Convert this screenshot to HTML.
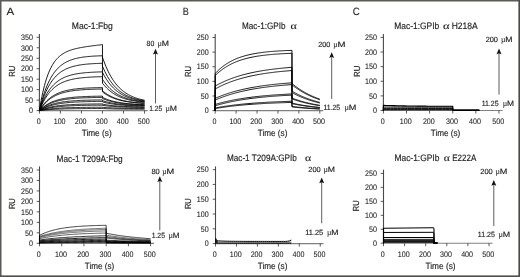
<!DOCTYPE html>
<html><head><meta charset="utf-8"><style>
html,body{margin:0;padding:0;background:#fff;width:520px;height:277px;overflow:hidden}
body{position:relative}
</style></head><body>
<svg xmlns="http://www.w3.org/2000/svg" width="520" height="277" viewBox="0 0 520 277" style="position:absolute;left:0;top:0;text-rendering:geometricPrecision;will-change:transform">
<rect x="0" y="0" width="520" height="277" fill="#fff"/>
<rect x="0" y="0" width="1.5" height="277" fill="#5a5a57"/>
<rect x="0" y="0" width="520" height="1.5" fill="#5a5a57"/>
<rect x="518.4" y="0" width="1.6" height="277" fill="#4a4a47"/>
<rect x="0" y="275.4" width="520" height="1.6" fill="#4f4f4c"/>
<g font-family='"Liberation Sans", sans-serif' fill="#222" stroke="#222" stroke-width="0.15">
<text x="6.55" y="14.60" font-size="10.5" textLength="7.70" lengthAdjust="spacingAndGlyphs" stroke-width="0.1">A</text>
<text x="182.65" y="14.80" font-size="10.5" textLength="6.10" lengthAdjust="spacingAndGlyphs" stroke-width="0.1">B</text>
<text x="352.75" y="15.30" font-size="10.5" textLength="7.00" lengthAdjust="spacingAndGlyphs" stroke-width="0.1">C</text>
<text x="71.75" y="28.60" font-size="9.3" textLength="41.10" lengthAdjust="spacingAndGlyphs" >Mac-1:Fbg</text>
<text x="242.05" y="28.70" font-size="9.3" textLength="43.50" lengthAdjust="spacingAndGlyphs" >Mac-1:GPIb</text>
<text x="290.45" y="28.90" font-size="9.6" textLength="6.30" lengthAdjust="spacingAndGlyphs" font-family="Liberation Serif" stroke-width="0.1">&#945;</text>
<text x="394.25" y="28.90" font-size="9.3" textLength="45.00" lengthAdjust="spacingAndGlyphs" >Mac-1:GPIb</text>
<text x="442.95" y="28.90" font-size="9.6" textLength="6.50" lengthAdjust="spacingAndGlyphs" font-family="Liberation Serif" stroke-width="0.1">&#945;</text>
<text x="451.65" y="28.90" font-size="9.3" textLength="26.10" lengthAdjust="spacingAndGlyphs" >H218A</text>
<text x="56.55" y="161.50" font-size="9.3" textLength="66.10" lengthAdjust="spacingAndGlyphs" >Mac-1 T209A:Fbg</text>
<text x="226.95" y="160.80" font-size="9.3" textLength="69.90" lengthAdjust="spacingAndGlyphs" >Mac-1 T209A:GPIb</text>
<text x="305.05" y="161.00" font-size="9.6" textLength="6.20" lengthAdjust="spacingAndGlyphs" font-family="Liberation Serif" stroke-width="0.1">&#945;</text>
<text x="394.45" y="161.30" font-size="9.3" textLength="44.90" lengthAdjust="spacingAndGlyphs" >Mac-1:GPIb</text>
<text x="443.65" y="161.10" font-size="9.6" textLength="6.10" lengthAdjust="spacingAndGlyphs" font-family="Liberation Serif" stroke-width="0.1">&#945;</text>
<text x="452.15" y="161.10" font-size="9.3" textLength="24.10" lengthAdjust="spacingAndGlyphs" >E222A</text>
<text transform="translate(15.00,76.50) rotate(-90)" x="-0.3" y="0" font-size="8.8" textLength="11.20" lengthAdjust="spacingAndGlyphs">RU</text>
<text transform="translate(190.90,76.70) rotate(-90)" x="-0.3" y="0" font-size="8.8" textLength="11.10" lengthAdjust="spacingAndGlyphs">RU</text>
<text transform="translate(359.60,76.70) rotate(-90)" x="-0.3" y="0" font-size="8.8" textLength="11.40" lengthAdjust="spacingAndGlyphs">RU</text>
<text transform="translate(15.30,208.80) rotate(-90)" x="-0.3" y="0" font-size="8.8" textLength="10.80" lengthAdjust="spacingAndGlyphs">RU</text>
<text transform="translate(190.90,208.80) rotate(-90)" x="-0.3" y="0" font-size="8.8" textLength="10.80" lengthAdjust="spacingAndGlyphs">RU</text>
<text transform="translate(359.30,210.90) rotate(-90)" x="-0.3" y="0" font-size="8.8" textLength="10.80" lengthAdjust="spacingAndGlyphs">RU</text>
<text x="81.65" y="135.90" font-size="9.0" textLength="30.00" lengthAdjust="spacingAndGlyphs" >Time (s)</text>
<text x="257.85" y="135.60" font-size="9.0" textLength="29.50" lengthAdjust="spacingAndGlyphs" >Time (s)</text>
<text x="430.75" y="135.80" font-size="9.0" textLength="29.50" lengthAdjust="spacingAndGlyphs" >Time (s)</text>
<text x="84.85" y="268.80" font-size="9.0" textLength="29.30" lengthAdjust="spacingAndGlyphs" >Time (s)</text>
<text x="257.85" y="268.90" font-size="9.0" textLength="29.50" lengthAdjust="spacingAndGlyphs" >Time (s)</text>
<text x="425.55" y="268.70" font-size="9.0" textLength="30.00" lengthAdjust="spacingAndGlyphs" >Time (s)</text>
<text x="146.55" y="46.00" font-size="7.5" textLength="7.70" lengthAdjust="spacingAndGlyphs" >80</text>
<text x="157.45" y="46.00" font-size="8.3" textLength="4.40" lengthAdjust="spacingAndGlyphs" font-family="Liberation Serif" stroke-width="0.1">&#181;</text>
<text x="161.75" y="46.00" font-size="7.5" textLength="7.20" lengthAdjust="spacingAndGlyphs" >M</text>
<text x="149.25" y="110.80" font-size="7.5" textLength="13.00" lengthAdjust="spacingAndGlyphs" >1.25</text>
<text x="165.45" y="110.80" font-size="8.3" textLength="4.40" lengthAdjust="spacingAndGlyphs" font-family="Liberation Serif" stroke-width="0.1">&#181;</text>
<text x="169.75" y="110.80" font-size="7.5" textLength="7.20" lengthAdjust="spacingAndGlyphs" >M</text>
<text x="318.35" y="46.50" font-size="7.5" textLength="12.00" lengthAdjust="spacingAndGlyphs" >200</text>
<text x="333.25" y="46.50" font-size="8.3" textLength="4.40" lengthAdjust="spacingAndGlyphs" font-family="Liberation Serif" stroke-width="0.1">&#181;</text>
<text x="337.55" y="46.50" font-size="7.5" textLength="8.00" lengthAdjust="spacingAndGlyphs" >M</text>
<text x="323.55" y="110.10" font-size="7.5" textLength="16.60" lengthAdjust="spacingAndGlyphs" >11.25</text>
<text x="344.45" y="110.10" font-size="8.3" textLength="4.40" lengthAdjust="spacingAndGlyphs" font-family="Liberation Serif" stroke-width="0.1">&#181;</text>
<text x="348.75" y="110.10" font-size="7.5" textLength="7.60" lengthAdjust="spacingAndGlyphs" >M</text>
<text x="485.65" y="41.90" font-size="7.5" textLength="12.30" lengthAdjust="spacingAndGlyphs" >200</text>
<text x="501.05" y="41.90" font-size="8.3" textLength="4.40" lengthAdjust="spacingAndGlyphs" font-family="Liberation Serif" stroke-width="0.1">&#181;</text>
<text x="505.35" y="41.90" font-size="7.5" textLength="7.20" lengthAdjust="spacingAndGlyphs" >M</text>
<text x="481.65" y="106.10" font-size="7.5" textLength="16.90" lengthAdjust="spacingAndGlyphs" >11.25</text>
<text x="502.75" y="106.10" font-size="8.3" textLength="4.40" lengthAdjust="spacingAndGlyphs" font-family="Liberation Serif" stroke-width="0.1">&#181;</text>
<text x="507.05" y="106.10" font-size="7.5" textLength="7.00" lengthAdjust="spacingAndGlyphs" >M</text>
<text x="151.45" y="173.60" font-size="7.5" textLength="8.30" lengthAdjust="spacingAndGlyphs" >80</text>
<text x="162.25" y="173.60" font-size="8.3" textLength="4.40" lengthAdjust="spacingAndGlyphs" font-family="Liberation Serif" stroke-width="0.1">&#181;</text>
<text x="166.55" y="173.60" font-size="7.5" textLength="7.70" lengthAdjust="spacingAndGlyphs" >M</text>
<text x="151.65" y="237.70" font-size="7.5" textLength="13.30" lengthAdjust="spacingAndGlyphs" >1.25</text>
<text x="168.45" y="237.70" font-size="8.3" textLength="4.40" lengthAdjust="spacingAndGlyphs" font-family="Liberation Serif" stroke-width="0.1">&#181;</text>
<text x="172.75" y="237.70" font-size="7.5" textLength="6.70" lengthAdjust="spacingAndGlyphs" >M</text>
<text x="308.25" y="171.70" font-size="7.5" textLength="12.40" lengthAdjust="spacingAndGlyphs" >200</text>
<text x="323.55" y="171.70" font-size="8.3" textLength="4.40" lengthAdjust="spacingAndGlyphs" font-family="Liberation Serif" stroke-width="0.1">&#181;</text>
<text x="327.85" y="171.70" font-size="7.5" textLength="7.20" lengthAdjust="spacingAndGlyphs" >M</text>
<text x="305.25" y="235.00" font-size="7.5" textLength="18.00" lengthAdjust="spacingAndGlyphs" >11.25</text>
<text x="326.95" y="235.00" font-size="8.3" textLength="4.40" lengthAdjust="spacingAndGlyphs" font-family="Liberation Serif" stroke-width="0.1">&#181;</text>
<text x="331.25" y="235.00" font-size="7.5" textLength="7.20" lengthAdjust="spacingAndGlyphs" >M</text>
<text x="480.25" y="173.70" font-size="7.5" textLength="12.40" lengthAdjust="spacingAndGlyphs" >200</text>
<text x="495.45" y="173.70" font-size="8.3" textLength="4.40" lengthAdjust="spacingAndGlyphs" font-family="Liberation Serif" stroke-width="0.1">&#181;</text>
<text x="499.75" y="173.70" font-size="7.5" textLength="7.60" lengthAdjust="spacingAndGlyphs" >M</text>
<text x="477.85" y="236.70" font-size="7.5" textLength="17.10" lengthAdjust="spacingAndGlyphs" >11.25</text>
<text x="498.45" y="236.70" font-size="8.3" textLength="4.40" lengthAdjust="spacingAndGlyphs" font-family="Liberation Serif" stroke-width="0.1">&#181;</text>
<text x="502.75" y="236.70" font-size="7.5" textLength="7.40" lengthAdjust="spacingAndGlyphs" >M</text>
</g>
<line x1="155.50" y1="52.80" x2="155.50" y2="103.50" stroke="#333" stroke-width="0.8"/>
<path d="M155.50,48.80 L158.00,54.50 L155.50,53.40 L153.00,54.50 Z" fill="#111"/>
<line x1="331.70" y1="56.20" x2="331.70" y2="98.90" stroke="#333" stroke-width="0.8"/>
<path d="M331.70,52.20 L334.20,57.90 L331.70,56.80 L329.20,57.90 Z" fill="#111"/>
<line x1="499.00" y1="52.60" x2="499.00" y2="94.70" stroke="#333" stroke-width="0.8"/>
<path d="M499.00,48.60 L501.50,54.30 L499.00,53.20 L496.50,54.30 Z" fill="#111"/>
<line x1="159.80" y1="180.30" x2="159.80" y2="230.40" stroke="#333" stroke-width="0.8"/>
<path d="M159.80,176.30 L162.30,182.00 L159.80,180.90 L157.30,182.00 Z" fill="#111"/>
<line x1="321.70" y1="181.60" x2="321.70" y2="223.30" stroke="#333" stroke-width="0.8"/>
<path d="M321.70,177.60 L324.20,183.30 L321.70,182.20 L319.20,183.30 Z" fill="#111"/>
<line x1="493.80" y1="184.10" x2="493.80" y2="226.10" stroke="#333" stroke-width="0.8"/>
<path d="M493.80,180.10 L496.30,185.80 L493.80,184.70 L491.30,185.80 Z" fill="#111"/>
<g font-family='"Liberation Sans", sans-serif' fill="#222" stroke="#222" stroke-width="0.15">
<line x1="39.40" y1="34.00" x2="39.40" y2="111.00" stroke="#4a4a4a" stroke-width="1.1"/>
<line x1="39.00" y1="110.60" x2="147.70" y2="110.60" stroke="#808080" stroke-width="1.15"/>
<line x1="36.60" y1="110.60" x2="39.40" y2="110.60" stroke="#333" stroke-width="0.8"/>
<text transform="translate(32.90,113.35) scale(0.89,1)" font-size="8.0" text-anchor="end" stroke-width="0.08" >0</text>
<line x1="36.60" y1="100.13" x2="39.40" y2="100.13" stroke="#333" stroke-width="0.8"/>
<text transform="translate(32.90,102.88) scale(0.89,1)" font-size="8.0" text-anchor="end" stroke-width="0.08" >50</text>
<line x1="36.60" y1="89.66" x2="39.40" y2="89.66" stroke="#333" stroke-width="0.8"/>
<text transform="translate(32.90,92.41) scale(0.89,1)" font-size="8.0" text-anchor="end" stroke-width="0.08" >100</text>
<line x1="36.60" y1="79.19" x2="39.40" y2="79.19" stroke="#333" stroke-width="0.8"/>
<text transform="translate(32.90,81.94) scale(0.89,1)" font-size="8.0" text-anchor="end" stroke-width="0.08" >150</text>
<line x1="36.60" y1="68.72" x2="39.40" y2="68.72" stroke="#333" stroke-width="0.8"/>
<text transform="translate(32.90,71.47) scale(0.89,1)" font-size="8.0" text-anchor="end" stroke-width="0.08" >200</text>
<line x1="36.60" y1="58.25" x2="39.40" y2="58.25" stroke="#333" stroke-width="0.8"/>
<text transform="translate(32.90,61.00) scale(0.89,1)" font-size="8.0" text-anchor="end" stroke-width="0.08" >250</text>
<line x1="36.60" y1="47.78" x2="39.40" y2="47.78" stroke="#333" stroke-width="0.8"/>
<text transform="translate(32.90,50.53) scale(0.89,1)" font-size="8.0" text-anchor="end" stroke-width="0.08" >300</text>
<line x1="36.60" y1="37.31" x2="39.40" y2="37.31" stroke="#333" stroke-width="0.8"/>
<text transform="translate(32.90,40.06) scale(0.89,1)" font-size="8.0" text-anchor="end" stroke-width="0.08" >350</text>
<line x1="39.40" y1="110.60" x2="39.40" y2="113.60" stroke="#333" stroke-width="0.8"/>
<text transform="translate(38.60,123.70) scale(0.89,1)" font-size="8.0" text-anchor="middle" stroke-width="0.08" >0</text>
<line x1="60.42" y1="110.60" x2="60.42" y2="113.60" stroke="#333" stroke-width="0.8"/>
<text transform="translate(59.62,123.70) scale(0.89,1)" font-size="8.0" text-anchor="middle" stroke-width="0.08" >100</text>
<line x1="81.44" y1="110.60" x2="81.44" y2="113.60" stroke="#333" stroke-width="0.8"/>
<text transform="translate(80.64,123.70) scale(0.89,1)" font-size="8.0" text-anchor="middle" stroke-width="0.08" >200</text>
<line x1="102.46" y1="110.60" x2="102.46" y2="113.60" stroke="#333" stroke-width="0.8"/>
<text transform="translate(101.66,123.70) scale(0.89,1)" font-size="8.0" text-anchor="middle" stroke-width="0.08" >300</text>
<line x1="123.48" y1="110.60" x2="123.48" y2="113.60" stroke="#333" stroke-width="0.8"/>
<text transform="translate(122.68,123.70) scale(0.89,1)" font-size="8.0" text-anchor="middle" stroke-width="0.08" >400</text>
<line x1="144.50" y1="110.60" x2="144.50" y2="113.60" stroke="#333" stroke-width="0.8"/>
<text transform="translate(143.70,123.70) scale(0.89,1)" font-size="8.0" text-anchor="middle" stroke-width="0.08" >500</text>
<line x1="215.20" y1="34.00" x2="215.20" y2="111.00" stroke="#4a4a4a" stroke-width="1.1"/>
<line x1="214.80" y1="110.60" x2="323.30" y2="110.60" stroke="#808080" stroke-width="1.15"/>
<line x1="212.40" y1="110.60" x2="215.20" y2="110.60" stroke="#333" stroke-width="0.8"/>
<text transform="translate(208.60,113.35) scale(0.89,1)" font-size="8.0" text-anchor="end" stroke-width="0.08" >0</text>
<line x1="212.40" y1="95.98" x2="215.20" y2="95.98" stroke="#333" stroke-width="0.8"/>
<text transform="translate(208.60,98.73) scale(0.89,1)" font-size="8.0" text-anchor="end" stroke-width="0.08" >50</text>
<line x1="212.40" y1="81.36" x2="215.20" y2="81.36" stroke="#333" stroke-width="0.8"/>
<text transform="translate(208.60,84.11) scale(0.89,1)" font-size="8.0" text-anchor="end" stroke-width="0.08" >100</text>
<line x1="212.40" y1="66.74" x2="215.20" y2="66.74" stroke="#333" stroke-width="0.8"/>
<text transform="translate(208.60,69.49) scale(0.89,1)" font-size="8.0" text-anchor="end" stroke-width="0.08" >150</text>
<line x1="212.40" y1="52.12" x2="215.20" y2="52.12" stroke="#333" stroke-width="0.8"/>
<text transform="translate(208.60,54.87) scale(0.89,1)" font-size="8.0" text-anchor="end" stroke-width="0.08" >200</text>
<line x1="212.40" y1="37.50" x2="215.20" y2="37.50" stroke="#333" stroke-width="0.8"/>
<text transform="translate(208.60,40.25) scale(0.89,1)" font-size="8.0" text-anchor="end" stroke-width="0.08" >250</text>
<line x1="215.20" y1="110.60" x2="215.20" y2="113.60" stroke="#333" stroke-width="0.8"/>
<text transform="translate(214.40,123.70) scale(0.89,1)" font-size="8.0" text-anchor="middle" stroke-width="0.08" >0</text>
<line x1="236.12" y1="110.60" x2="236.12" y2="113.60" stroke="#333" stroke-width="0.8"/>
<text transform="translate(235.32,123.70) scale(0.89,1)" font-size="8.0" text-anchor="middle" stroke-width="0.08" >100</text>
<line x1="257.04" y1="110.60" x2="257.04" y2="113.60" stroke="#333" stroke-width="0.8"/>
<text transform="translate(256.24,123.70) scale(0.89,1)" font-size="8.0" text-anchor="middle" stroke-width="0.08" >200</text>
<line x1="277.96" y1="110.60" x2="277.96" y2="113.60" stroke="#333" stroke-width="0.8"/>
<text transform="translate(277.16,123.70) scale(0.89,1)" font-size="8.0" text-anchor="middle" stroke-width="0.08" >300</text>
<line x1="298.88" y1="110.60" x2="298.88" y2="113.60" stroke="#333" stroke-width="0.8"/>
<text transform="translate(298.08,123.70) scale(0.89,1)" font-size="8.0" text-anchor="middle" stroke-width="0.08" >400</text>
<line x1="319.80" y1="110.60" x2="319.80" y2="113.60" stroke="#333" stroke-width="0.8"/>
<text transform="translate(319.00,123.70) scale(0.89,1)" font-size="8.0" text-anchor="middle" stroke-width="0.08" >500</text>
<line x1="383.40" y1="34.00" x2="383.40" y2="110.90" stroke="#4a4a4a" stroke-width="1.1"/>
<line x1="383.00" y1="110.50" x2="502.60" y2="110.50" stroke="#808080" stroke-width="1.15"/>
<line x1="380.60" y1="110.50" x2="383.40" y2="110.50" stroke="#333" stroke-width="0.8"/>
<text transform="translate(376.90,113.25) scale(0.89,1)" font-size="8.0" text-anchor="end" stroke-width="0.08" >0</text>
<line x1="380.60" y1="95.88" x2="383.40" y2="95.88" stroke="#333" stroke-width="0.8"/>
<text transform="translate(376.90,98.63) scale(0.89,1)" font-size="8.0" text-anchor="end" stroke-width="0.08" >50</text>
<line x1="380.60" y1="81.26" x2="383.40" y2="81.26" stroke="#333" stroke-width="0.8"/>
<text transform="translate(376.90,84.01) scale(0.89,1)" font-size="8.0" text-anchor="end" stroke-width="0.08" >100</text>
<line x1="380.60" y1="66.64" x2="383.40" y2="66.64" stroke="#333" stroke-width="0.8"/>
<text transform="translate(376.90,69.39) scale(0.89,1)" font-size="8.0" text-anchor="end" stroke-width="0.08" >150</text>
<line x1="380.60" y1="52.02" x2="383.40" y2="52.02" stroke="#333" stroke-width="0.8"/>
<text transform="translate(376.90,54.77) scale(0.89,1)" font-size="8.0" text-anchor="end" stroke-width="0.08" >200</text>
<line x1="380.60" y1="37.40" x2="383.40" y2="37.40" stroke="#333" stroke-width="0.8"/>
<text transform="translate(376.90,40.15) scale(0.89,1)" font-size="8.0" text-anchor="end" stroke-width="0.08" >250</text>
<line x1="383.40" y1="110.50" x2="383.40" y2="113.50" stroke="#333" stroke-width="0.8"/>
<text transform="translate(382.60,123.70) scale(0.89,1)" font-size="8.0" text-anchor="middle" stroke-width="0.08" >0</text>
<line x1="406.51" y1="110.50" x2="406.51" y2="113.50" stroke="#333" stroke-width="0.8"/>
<text transform="translate(405.71,123.70) scale(0.89,1)" font-size="8.0" text-anchor="middle" stroke-width="0.08" >100</text>
<line x1="429.62" y1="110.50" x2="429.62" y2="113.50" stroke="#333" stroke-width="0.8"/>
<text transform="translate(428.82,123.70) scale(0.89,1)" font-size="8.0" text-anchor="middle" stroke-width="0.08" >200</text>
<line x1="452.73" y1="110.50" x2="452.73" y2="113.50" stroke="#333" stroke-width="0.8"/>
<text transform="translate(451.93,123.70) scale(0.89,1)" font-size="8.0" text-anchor="middle" stroke-width="0.08" >300</text>
<line x1="475.84" y1="110.50" x2="475.84" y2="113.50" stroke="#333" stroke-width="0.8"/>
<text transform="translate(475.04,123.70) scale(0.89,1)" font-size="8.0" text-anchor="middle" stroke-width="0.08" >400</text>
<line x1="498.95" y1="110.50" x2="498.95" y2="113.50" stroke="#333" stroke-width="0.8"/>
<text transform="translate(498.15,123.70) scale(0.89,1)" font-size="8.0" text-anchor="middle" stroke-width="0.08" >500</text>
<line x1="39.50" y1="166.40" x2="39.50" y2="243.70" stroke="#4a4a4a" stroke-width="1.1"/>
<line x1="39.10" y1="243.30" x2="154.10" y2="243.30" stroke="#808080" stroke-width="1.15"/>
<line x1="36.70" y1="243.30" x2="39.50" y2="243.30" stroke="#333" stroke-width="0.8"/>
<text transform="translate(32.90,246.05) scale(0.89,1)" font-size="8.0" text-anchor="end" stroke-width="0.08" >0</text>
<line x1="36.70" y1="232.83" x2="39.50" y2="232.83" stroke="#333" stroke-width="0.8"/>
<text transform="translate(32.90,235.58) scale(0.89,1)" font-size="8.0" text-anchor="end" stroke-width="0.08" >50</text>
<line x1="36.70" y1="222.36" x2="39.50" y2="222.36" stroke="#333" stroke-width="0.8"/>
<text transform="translate(32.90,225.11) scale(0.89,1)" font-size="8.0" text-anchor="end" stroke-width="0.08" >100</text>
<line x1="36.70" y1="211.89" x2="39.50" y2="211.89" stroke="#333" stroke-width="0.8"/>
<text transform="translate(32.90,214.64) scale(0.89,1)" font-size="8.0" text-anchor="end" stroke-width="0.08" >150</text>
<line x1="36.70" y1="201.42" x2="39.50" y2="201.42" stroke="#333" stroke-width="0.8"/>
<text transform="translate(32.90,204.17) scale(0.89,1)" font-size="8.0" text-anchor="end" stroke-width="0.08" >200</text>
<line x1="36.70" y1="190.95" x2="39.50" y2="190.95" stroke="#333" stroke-width="0.8"/>
<text transform="translate(32.90,193.70) scale(0.89,1)" font-size="8.0" text-anchor="end" stroke-width="0.08" >250</text>
<line x1="36.70" y1="180.48" x2="39.50" y2="180.48" stroke="#333" stroke-width="0.8"/>
<text transform="translate(32.90,183.23) scale(0.89,1)" font-size="8.0" text-anchor="end" stroke-width="0.08" >300</text>
<line x1="36.70" y1="170.01" x2="39.50" y2="170.01" stroke="#333" stroke-width="0.8"/>
<text transform="translate(32.90,172.76) scale(0.89,1)" font-size="8.0" text-anchor="end" stroke-width="0.08" >350</text>
<line x1="39.50" y1="243.30" x2="39.50" y2="246.30" stroke="#333" stroke-width="0.8"/>
<text transform="translate(38.70,256.50) scale(0.89,1)" font-size="8.0" text-anchor="middle" stroke-width="0.08" >0</text>
<line x1="61.72" y1="243.30" x2="61.72" y2="246.30" stroke="#333" stroke-width="0.8"/>
<text transform="translate(60.92,256.50) scale(0.89,1)" font-size="8.0" text-anchor="middle" stroke-width="0.08" >100</text>
<line x1="83.94" y1="243.30" x2="83.94" y2="246.30" stroke="#333" stroke-width="0.8"/>
<text transform="translate(83.14,256.50) scale(0.89,1)" font-size="8.0" text-anchor="middle" stroke-width="0.08" >200</text>
<line x1="106.16" y1="243.30" x2="106.16" y2="246.30" stroke="#333" stroke-width="0.8"/>
<text transform="translate(105.36,256.50) scale(0.89,1)" font-size="8.0" text-anchor="middle" stroke-width="0.08" >300</text>
<line x1="128.38" y1="243.30" x2="128.38" y2="246.30" stroke="#333" stroke-width="0.8"/>
<text transform="translate(127.58,256.50) scale(0.89,1)" font-size="8.0" text-anchor="middle" stroke-width="0.08" >400</text>
<line x1="150.60" y1="243.30" x2="150.60" y2="246.30" stroke="#333" stroke-width="0.8"/>
<text transform="translate(149.80,256.50) scale(0.89,1)" font-size="8.0" text-anchor="middle" stroke-width="0.08" >500</text>
<line x1="215.50" y1="166.40" x2="215.50" y2="244.00" stroke="#4a4a4a" stroke-width="1.1"/>
<line x1="215.10" y1="243.60" x2="323.50" y2="243.60" stroke="#808080" stroke-width="1.15"/>
<line x1="212.70" y1="243.60" x2="215.50" y2="243.60" stroke="#333" stroke-width="0.8"/>
<text transform="translate(208.60,246.35) scale(0.89,1)" font-size="8.0" text-anchor="end" stroke-width="0.08" >0</text>
<line x1="212.70" y1="228.81" x2="215.50" y2="228.81" stroke="#333" stroke-width="0.8"/>
<text transform="translate(208.60,231.56) scale(0.89,1)" font-size="8.0" text-anchor="end" stroke-width="0.08" >50</text>
<line x1="212.70" y1="214.02" x2="215.50" y2="214.02" stroke="#333" stroke-width="0.8"/>
<text transform="translate(208.60,216.77) scale(0.89,1)" font-size="8.0" text-anchor="end" stroke-width="0.08" >100</text>
<line x1="212.70" y1="199.23" x2="215.50" y2="199.23" stroke="#333" stroke-width="0.8"/>
<text transform="translate(208.60,201.98) scale(0.89,1)" font-size="8.0" text-anchor="end" stroke-width="0.08" >150</text>
<line x1="212.70" y1="184.44" x2="215.50" y2="184.44" stroke="#333" stroke-width="0.8"/>
<text transform="translate(208.60,187.19) scale(0.89,1)" font-size="8.0" text-anchor="end" stroke-width="0.08" >200</text>
<line x1="212.70" y1="169.65" x2="215.50" y2="169.65" stroke="#333" stroke-width="0.8"/>
<text transform="translate(208.60,172.40) scale(0.89,1)" font-size="8.0" text-anchor="end" stroke-width="0.08" >250</text>
<line x1="215.50" y1="243.60" x2="215.50" y2="246.60" stroke="#333" stroke-width="0.8"/>
<text transform="translate(214.70,256.50) scale(0.89,1)" font-size="8.0" text-anchor="middle" stroke-width="0.08" >0</text>
<line x1="236.45" y1="243.60" x2="236.45" y2="246.60" stroke="#333" stroke-width="0.8"/>
<text transform="translate(235.65,256.50) scale(0.89,1)" font-size="8.0" text-anchor="middle" stroke-width="0.08" >100</text>
<line x1="257.40" y1="243.60" x2="257.40" y2="246.60" stroke="#333" stroke-width="0.8"/>
<text transform="translate(256.60,256.50) scale(0.89,1)" font-size="8.0" text-anchor="middle" stroke-width="0.08" >200</text>
<line x1="278.35" y1="243.60" x2="278.35" y2="246.60" stroke="#333" stroke-width="0.8"/>
<text transform="translate(277.55,256.50) scale(0.89,1)" font-size="8.0" text-anchor="middle" stroke-width="0.08" >300</text>
<line x1="299.30" y1="243.60" x2="299.30" y2="246.60" stroke="#333" stroke-width="0.8"/>
<text transform="translate(298.50,256.50) scale(0.89,1)" font-size="8.0" text-anchor="middle" stroke-width="0.08" >400</text>
<line x1="320.25" y1="243.60" x2="320.25" y2="246.60" stroke="#333" stroke-width="0.8"/>
<text transform="translate(319.45,256.50) scale(0.89,1)" font-size="8.0" text-anchor="middle" stroke-width="0.08" >500</text>
<line x1="383.50" y1="169.70" x2="383.50" y2="243.60" stroke="#4a4a4a" stroke-width="1.1"/>
<line x1="383.10" y1="243.20" x2="492.50" y2="243.20" stroke="#808080" stroke-width="1.15"/>
<line x1="380.70" y1="243.20" x2="383.50" y2="243.20" stroke="#333" stroke-width="0.8"/>
<text transform="translate(376.90,245.95) scale(0.89,1)" font-size="8.0" text-anchor="end" stroke-width="0.08" >0</text>
<line x1="380.70" y1="229.25" x2="383.50" y2="229.25" stroke="#333" stroke-width="0.8"/>
<text transform="translate(376.90,232.00) scale(0.89,1)" font-size="8.0" text-anchor="end" stroke-width="0.08" >50</text>
<line x1="380.70" y1="215.30" x2="383.50" y2="215.30" stroke="#333" stroke-width="0.8"/>
<text transform="translate(376.90,218.05) scale(0.89,1)" font-size="8.0" text-anchor="end" stroke-width="0.08" >100</text>
<line x1="380.70" y1="201.35" x2="383.50" y2="201.35" stroke="#333" stroke-width="0.8"/>
<text transform="translate(376.90,204.10) scale(0.89,1)" font-size="8.0" text-anchor="end" stroke-width="0.08" >150</text>
<line x1="380.70" y1="187.40" x2="383.50" y2="187.40" stroke="#333" stroke-width="0.8"/>
<text transform="translate(376.90,190.15) scale(0.89,1)" font-size="8.0" text-anchor="end" stroke-width="0.08" >200</text>
<line x1="380.70" y1="173.45" x2="383.50" y2="173.45" stroke="#333" stroke-width="0.8"/>
<text transform="translate(376.90,176.20) scale(0.89,1)" font-size="8.0" text-anchor="end" stroke-width="0.08" >250</text>
<line x1="383.50" y1="243.20" x2="383.50" y2="246.20" stroke="#333" stroke-width="0.8"/>
<text transform="translate(382.70,256.50) scale(0.89,1)" font-size="8.0" text-anchor="middle" stroke-width="0.08" >0</text>
<line x1="404.60" y1="243.20" x2="404.60" y2="246.20" stroke="#333" stroke-width="0.8"/>
<text transform="translate(403.80,256.50) scale(0.89,1)" font-size="8.0" text-anchor="middle" stroke-width="0.08" >100</text>
<line x1="425.70" y1="243.20" x2="425.70" y2="246.20" stroke="#333" stroke-width="0.8"/>
<text transform="translate(424.90,256.50) scale(0.89,1)" font-size="8.0" text-anchor="middle" stroke-width="0.08" >200</text>
<line x1="446.80" y1="243.20" x2="446.80" y2="246.20" stroke="#333" stroke-width="0.8"/>
<text transform="translate(446.00,256.50) scale(0.89,1)" font-size="8.0" text-anchor="middle" stroke-width="0.08" >300</text>
<line x1="467.90" y1="243.20" x2="467.90" y2="246.20" stroke="#333" stroke-width="0.8"/>
<text transform="translate(467.10,256.50) scale(0.89,1)" font-size="8.0" text-anchor="middle" stroke-width="0.08" >400</text>
<line x1="489.00" y1="243.20" x2="489.00" y2="246.20" stroke="#333" stroke-width="0.8"/>
<text transform="translate(488.20,256.50) scale(0.89,1)" font-size="8.0" text-anchor="middle" stroke-width="0.08" >500</text>
</g>
<path d="M39.40,110.60 L40.24,105.50 L41.08,100.83 L41.92,96.54 L42.76,92.61 L43.60,89.00 L44.44,85.69 L45.29,82.65 L46.13,79.85 L46.97,77.29 L47.81,74.93 L48.65,72.77 L49.49,70.78 L50.33,68.95 L51.17,67.26 L52.01,65.72 L52.85,64.29 L53.69,62.98 L54.53,61.77 L55.38,60.65 L56.22,59.62 L57.06,58.67 L57.90,57.80 L58.74,56.99 L59.58,56.24 L60.42,55.54 L61.26,54.90 L62.10,54.30 L62.94,53.75 L63.78,53.24 L64.62,52.76 L65.46,52.31 L66.31,51.90 L67.15,51.51 L67.99,51.15 L68.83,50.81 L69.67,50.49 L70.51,50.19 L71.35,49.91 L72.19,49.65 L73.03,49.40 L73.87,49.16 L74.71,48.94 L75.55,48.72 L76.40,48.52 L77.24,48.33 L78.08,48.15 L78.92,47.97 L79.76,47.80 L80.60,47.64 L81.44,47.49 L82.28,47.34 L83.12,47.19 L83.96,47.05 L84.80,46.92 L85.64,46.79 L86.48,46.66 L87.33,46.54 L88.17,46.41 L89.01,46.30 L89.85,46.18 L90.69,46.07 L91.53,45.96 L92.37,45.85 L93.21,45.74 L94.05,45.63 L94.89,45.53 L95.73,45.43 L96.57,45.32 L97.42,45.22 L98.26,45.12 L99.10,45.02 L99.94,44.93 L100.78,44.83 L101.62,44.73 L102.46,44.64 L102.46,57.17 L103.30,59.60 L104.14,61.91 L104.98,64.09 L105.82,66.16 L106.66,68.12 L107.50,69.97 L108.35,71.73 L109.19,73.40 L110.03,74.97 L110.87,76.47 L111.71,77.88 L112.55,79.22 L113.39,80.49 L114.23,81.69 L115.07,82.83 L115.91,83.91 L116.75,84.93 L117.59,85.90 L118.44,86.82 L119.28,87.69 L120.12,88.51 L120.96,89.29 L121.80,90.03 L122.64,90.73 L123.48,91.39 L124.32,92.02 L125.16,92.61 L126.00,93.17 L126.84,93.71 L127.68,94.21 L128.52,94.69 L129.37,95.15 L130.21,95.57 L131.05,95.98 L131.89,96.37 L132.73,96.73 L133.57,97.08 L134.41,97.40 L135.25,97.72 L136.09,98.01 L136.93,98.29 L137.77,98.55 L138.61,98.80 L139.46,99.04 L140.30,99.26 L141.14,99.47 L141.98,99.67 L142.82,99.86 L143.66,100.05 L144.50,100.22" fill="none" stroke="#000" stroke-width="0.9" stroke-linejoin="round"/>
<path d="M39.40,110.60 L40.24,107.07 L41.08,103.77 L41.92,100.67 L42.76,97.78 L43.60,95.07 L44.44,92.53 L45.29,90.16 L46.13,87.93 L46.97,85.85 L47.81,83.90 L48.65,82.08 L49.49,80.37 L50.33,78.77 L51.17,77.28 L52.01,75.88 L52.85,74.57 L53.69,73.34 L54.53,72.19 L55.38,71.11 L56.22,70.11 L57.06,69.16 L57.90,68.28 L58.74,67.45 L59.58,66.68 L60.42,65.96 L61.26,65.28 L62.10,64.65 L62.94,64.05 L63.78,63.50 L64.62,62.97 L65.46,62.49 L66.31,62.03 L67.15,61.60 L67.99,61.20 L68.83,60.83 L69.67,60.48 L70.51,60.15 L71.35,59.85 L72.19,59.56 L73.03,59.29 L73.87,59.04 L74.71,58.80 L75.55,58.58 L76.40,58.37 L77.24,58.18 L78.08,58.00 L78.92,57.83 L79.76,57.67 L80.60,57.52 L81.44,57.38 L82.28,57.25 L83.12,57.13 L83.96,57.02 L84.80,56.91 L85.64,56.81 L86.48,56.72 L87.33,56.63 L88.17,56.55 L89.01,56.47 L89.85,56.40 L90.69,56.33 L91.53,56.27 L92.37,56.21 L93.21,56.15 L94.05,56.10 L94.89,56.05 L95.73,56.01 L96.57,55.97 L97.42,55.93 L98.26,55.89 L99.10,55.86 L99.94,55.82 L100.78,55.79 L101.62,55.76 L102.46,55.74 L102.46,66.16 L103.30,68.12 L104.14,69.98 L104.98,71.74 L105.82,73.40 L106.66,74.98 L107.50,76.47 L108.35,77.89 L109.19,79.23 L110.03,80.50 L110.87,81.70 L111.71,82.84 L112.55,83.92 L113.39,84.95 L114.23,85.92 L115.07,86.83 L115.91,87.70 L116.75,88.53 L117.59,89.31 L118.44,90.04 L119.28,90.74 L120.12,91.41 L120.96,92.04 L121.80,92.63 L122.64,93.19 L123.48,93.73 L124.32,94.23 L125.16,94.71 L126.00,95.17 L126.84,95.60 L127.68,96.00 L128.52,96.39 L129.37,96.75 L130.21,97.10 L131.05,97.43 L131.89,97.74 L132.73,98.03 L133.57,98.31 L134.41,98.57 L135.25,98.82 L136.09,99.06 L136.93,99.28 L137.77,99.50 L138.61,99.70 L139.46,99.89 L140.30,100.07 L141.14,100.24 L141.98,100.40 L142.82,100.56 L143.66,100.70 L144.50,100.84" fill="none" stroke="#000" stroke-width="0.9" stroke-linejoin="round"/>
<path d="M39.40,110.60 L40.24,107.60 L41.08,104.79 L41.92,102.16 L42.76,99.69 L43.60,97.38 L44.44,95.21 L45.29,93.18 L46.13,91.28 L46.97,89.50 L47.81,87.83 L48.65,86.26 L49.49,84.79 L50.33,83.42 L51.17,82.13 L52.01,80.92 L52.85,79.79 L53.69,78.73 L54.53,77.73 L55.38,76.80 L56.22,75.93 L57.06,75.11 L57.90,74.34 L58.74,73.62 L59.58,72.95 L60.42,72.32 L61.26,71.73 L62.10,71.17 L62.94,70.65 L63.78,70.17 L64.62,69.71 L65.46,69.28 L66.31,68.88 L67.15,68.51 L67.99,68.15 L68.83,67.83 L69.67,67.52 L70.51,67.23 L71.35,66.96 L72.19,66.70 L73.03,66.46 L73.87,66.24 L74.71,66.03 L75.55,65.83 L76.40,65.65 L77.24,65.48 L78.08,65.32 L78.92,65.16 L79.76,65.02 L80.60,64.89 L81.44,64.77 L82.28,64.65 L83.12,64.54 L83.96,64.44 L84.80,64.34 L85.64,64.25 L86.48,64.17 L87.33,64.09 L88.17,64.01 L89.01,63.94 L89.85,63.88 L90.69,63.82 L91.53,63.76 L92.37,63.71 L93.21,63.66 L94.05,63.61 L94.89,63.57 L95.73,63.52 L96.57,63.49 L97.42,63.45 L98.26,63.42 L99.10,63.38 L99.94,63.35 L100.78,63.33 L101.62,63.30 L102.46,63.28 L102.46,72.27 L103.30,73.91 L104.14,75.46 L104.98,76.93 L105.82,78.33 L106.66,79.65 L107.50,80.90 L108.35,82.08 L109.19,83.20 L110.03,84.27 L110.87,85.27 L111.71,86.23 L112.55,87.13 L113.39,87.99 L114.23,88.80 L115.07,89.56 L115.91,90.29 L116.75,90.98 L117.59,91.63 L118.44,92.25 L119.28,92.84 L120.12,93.39 L120.96,93.92 L121.80,94.41 L122.64,94.89 L123.48,95.33 L124.32,95.76 L125.16,96.16 L126.00,96.54 L126.84,96.90 L127.68,97.24 L128.52,97.56 L129.37,97.86 L130.21,98.15 L131.05,98.43 L131.89,98.69 L132.73,98.93 L133.57,99.17 L134.41,99.39 L135.25,99.60 L136.09,99.79 L136.93,99.98 L137.77,100.16 L138.61,100.33 L139.46,100.49 L140.30,100.64 L141.14,100.78 L141.98,100.92 L142.82,101.05 L143.66,101.17 L144.50,101.28" fill="none" stroke="#000" stroke-width="0.9" stroke-linejoin="round"/>
<path d="M39.40,110.60 L40.24,108.18 L41.08,105.92 L41.92,103.79 L42.76,101.80 L43.60,99.92 L44.44,98.17 L45.29,96.52 L46.13,94.98 L46.97,93.53 L47.81,92.17 L48.65,90.89 L49.49,89.69 L50.33,88.57 L51.17,87.52 L52.01,86.53 L52.85,85.60 L53.69,84.73 L54.53,83.91 L55.38,83.15 L56.22,82.43 L57.06,81.76 L57.90,81.12 L58.74,80.53 L59.58,79.98 L60.42,79.45 L61.26,78.96 L62.10,78.50 L62.94,78.07 L63.78,77.67 L64.62,77.29 L65.46,76.93 L66.31,76.60 L67.15,76.29 L67.99,75.99 L68.83,75.72 L69.67,75.46 L70.51,75.22 L71.35,74.99 L72.19,74.77 L73.03,74.57 L73.87,74.39 L74.71,74.21 L75.55,74.04 L76.40,73.89 L77.24,73.74 L78.08,73.61 L78.92,73.48 L79.76,73.36 L80.60,73.25 L81.44,73.14 L82.28,73.04 L83.12,72.95 L83.96,72.86 L84.80,72.78 L85.64,72.70 L86.48,72.63 L87.33,72.56 L88.17,72.50 L89.01,72.44 L89.85,72.38 L90.69,72.33 L91.53,72.28 L92.37,72.24 L93.21,72.19 L94.05,72.15 L94.89,72.11 L95.73,72.08 L96.57,72.04 L97.42,72.01 L98.26,71.98 L99.10,71.96 L99.94,71.93 L100.78,71.91 L101.62,71.88 L102.46,71.86 L102.46,79.22 L103.30,80.50 L104.14,81.71 L104.98,82.86 L105.82,83.94 L106.66,84.97 L107.50,85.95 L108.35,86.87 L109.19,87.75 L110.03,88.58 L110.87,89.36 L111.71,90.10 L112.55,90.81 L113.39,91.47 L114.23,92.11 L115.07,92.71 L115.91,93.27 L116.75,93.81 L117.59,94.32 L118.44,94.80 L119.28,95.26 L120.12,95.69 L120.96,96.10 L121.80,96.49 L122.64,96.85 L123.48,97.20 L124.32,97.53 L125.16,97.84 L126.00,98.14 L126.84,98.42 L127.68,98.69 L128.52,98.94 L129.37,99.18 L130.21,99.40 L131.05,99.61 L131.89,99.82 L132.73,100.01 L133.57,100.19 L134.41,100.36 L135.25,100.53 L136.09,100.68 L136.93,100.83 L137.77,100.96 L138.61,101.10 L139.46,101.22 L140.30,101.34 L141.14,101.45 L141.98,101.56 L142.82,101.66 L143.66,101.75 L144.50,101.84" fill="none" stroke="#000" stroke-width="0.9" stroke-linejoin="round"/>
<path d="M39.40,110.60 L40.24,108.52 L41.08,106.56 L41.92,104.72 L42.76,103.00 L43.60,101.38 L44.44,99.86 L45.29,98.43 L46.13,97.09 L46.97,95.83 L47.81,94.64 L48.65,93.53 L49.49,92.49 L50.33,91.51 L51.17,90.58 L52.01,89.72 L52.85,88.91 L53.69,88.14 L54.53,87.43 L55.38,86.76 L56.22,86.12 L57.06,85.53 L57.90,84.97 L58.74,84.45 L59.58,83.96 L60.42,83.50 L61.26,83.06 L62.10,82.65 L62.94,82.27 L63.78,81.91 L64.62,81.58 L65.46,81.26 L66.31,80.96 L67.15,80.68 L67.99,80.42 L68.83,80.17 L69.67,79.94 L70.51,79.72 L71.35,79.52 L72.19,79.33 L73.03,79.15 L73.87,78.98 L74.71,78.82 L75.55,78.67 L76.40,78.53 L77.24,78.40 L78.08,78.28 L78.92,78.16 L79.76,78.05 L80.60,77.95 L81.44,77.85 L82.28,77.76 L83.12,77.68 L83.96,77.60 L84.80,77.52 L85.64,77.45 L86.48,77.39 L87.33,77.32 L88.17,77.27 L89.01,77.21 L89.85,77.16 L90.69,77.11 L91.53,77.07 L92.37,77.02 L93.21,76.98 L94.05,76.95 L94.89,76.91 L95.73,76.88 L96.57,76.85 L97.42,76.82 L98.26,76.79 L99.10,76.77 L99.94,76.74 L100.78,76.72 L101.62,76.70 L102.46,76.68 L102.46,83.12 L103.30,84.20 L104.14,85.22 L104.98,86.19 L105.82,87.11 L106.66,87.97 L107.50,88.80 L108.35,89.57 L109.19,90.31 L110.03,91.01 L110.87,91.67 L111.71,92.30 L112.55,92.89 L113.39,93.46 L114.23,93.99 L115.07,94.49 L115.91,94.97 L116.75,95.43 L117.59,95.85 L118.44,96.26 L119.28,96.65 L120.12,97.01 L120.96,97.36 L121.80,97.68 L122.64,97.99 L123.48,98.29 L124.32,98.56 L125.16,98.83 L126.00,99.08 L126.84,99.31 L127.68,99.54 L128.52,99.75 L129.37,99.95 L130.21,100.14 L131.05,100.32 L131.89,100.49 L132.73,100.65 L133.57,100.81 L134.41,100.95 L135.25,101.09 L136.09,101.22 L136.93,101.34 L137.77,101.46 L138.61,101.57 L139.46,101.68 L140.30,101.78 L141.14,101.87 L141.98,101.96 L142.82,102.04 L143.66,102.12 L144.50,102.20" fill="none" stroke="#000" stroke-width="0.9" stroke-linejoin="round"/>
<path d="M39.40,110.60 L40.24,109.21 L41.08,107.90 L41.92,106.67 L42.76,105.51 L43.60,104.43 L44.44,103.40 L45.29,102.44 L46.13,101.54 L46.97,100.69 L47.81,99.89 L48.65,99.14 L49.49,98.43 L50.33,97.77 L51.17,97.15 L52.01,96.56 L52.85,96.01 L53.69,95.49 L54.53,95.00 L55.38,94.54 L56.22,94.11 L57.06,93.71 L57.90,93.33 L58.74,92.97 L59.58,92.63 L60.42,92.31 L61.26,92.02 L62.10,91.74 L62.94,91.47 L63.78,91.23 L64.62,90.99 L65.46,90.77 L66.31,90.57 L67.15,90.38 L67.99,90.19 L68.83,90.02 L69.67,89.86 L70.51,89.71 L71.35,89.57 L72.19,89.44 L73.03,89.31 L73.87,89.19 L74.71,89.08 L75.55,88.98 L76.40,88.88 L77.24,88.79 L78.08,88.70 L78.92,88.62 L79.76,88.54 L80.60,88.47 L81.44,88.40 L82.28,88.34 L83.12,88.28 L83.96,88.22 L84.80,88.17 L85.64,88.12 L86.48,88.07 L87.33,88.03 L88.17,87.99 L89.01,87.95 L89.85,87.91 L90.69,87.88 L91.53,87.85 L92.37,87.82 L93.21,87.79 L94.05,87.76 L94.89,87.73 L95.73,87.71 L96.57,87.69 L97.42,87.67 L98.26,87.65 L99.10,87.63 L99.94,87.61 L100.78,87.60 L101.62,87.58 L102.46,87.57 L102.46,90.78 L103.30,91.48 L104.14,92.14 L104.98,92.77 L105.82,93.37 L106.66,93.93 L107.50,94.47 L108.35,94.98 L109.19,95.46 L110.03,95.91 L110.87,96.34 L111.71,96.75 L112.55,97.14 L113.39,97.51 L114.23,97.85 L115.07,98.18 L115.91,98.49 L116.75,98.79 L117.59,99.07 L118.44,99.33 L119.28,99.58 L120.12,99.82 L120.96,100.04 L121.80,100.26 L122.64,100.46 L123.48,100.65 L124.32,100.83 L125.16,101.00 L126.00,101.17 L126.84,101.32 L127.68,101.47 L128.52,101.60 L129.37,101.73 L130.21,101.86 L131.05,101.98 L131.89,102.09 L132.73,102.19 L133.57,102.29 L134.41,102.39 L135.25,102.48 L136.09,102.56 L136.93,102.64 L137.77,102.72 L138.61,102.79 L139.46,102.86 L140.30,102.92 L141.14,102.98 L141.98,103.04 L142.82,103.10 L143.66,103.15 L144.50,103.20" fill="none" stroke="#000" stroke-width="0.9" stroke-linejoin="round"/>
<path d="M39.40,110.60 L40.24,109.32 L41.08,108.11 L41.92,106.98 L42.76,105.91 L43.60,104.90 L44.44,103.95 L45.29,103.06 L46.13,102.22 L46.97,101.43 L47.81,100.69 L48.65,99.99 L49.49,99.33 L50.33,98.71 L51.17,98.13 L52.01,97.58 L52.85,97.07 L53.69,96.58 L54.53,96.12 L55.38,95.69 L56.22,95.29 L57.06,94.90 L57.90,94.55 L58.74,94.21 L59.58,93.89 L60.42,93.59 L61.26,93.31 L62.10,93.04 L62.94,92.79 L63.78,92.56 L64.62,92.34 L65.46,92.13 L66.31,91.93 L67.15,91.75 L67.99,91.58 L68.83,91.41 L69.67,91.26 L70.51,91.11 L71.35,90.98 L72.19,90.85 L73.03,90.73 L73.87,90.62 L74.71,90.51 L75.55,90.41 L76.40,90.31 L77.24,90.23 L78.08,90.14 L78.92,90.06 L79.76,89.99 L80.60,89.92 L81.44,89.85 L82.28,89.79 L83.12,89.73 L83.96,89.68 L84.80,89.63 L85.64,89.58 L86.48,89.53 L87.33,89.49 L88.17,89.45 L89.01,89.41 L89.85,89.37 L90.69,89.34 L91.53,89.31 L92.37,89.28 L93.21,89.25 L94.05,89.22 L94.89,89.20 L95.73,89.18 L96.57,89.15 L97.42,89.13 L98.26,89.11 L99.10,89.10 L99.94,89.08 L100.78,89.06 L101.62,89.05 L102.46,89.03 L102.46,91.85 L103.30,92.50 L104.14,93.12 L104.98,93.70 L105.82,94.25 L106.66,94.78 L107.50,95.28 L108.35,95.75 L109.19,96.19 L110.03,96.62 L110.87,97.02 L111.71,97.40 L112.55,97.76 L113.39,98.10 L114.23,98.42 L115.07,98.72 L115.91,99.01 L116.75,99.29 L117.59,99.55 L118.44,99.79 L119.28,100.02 L120.12,100.25 L120.96,100.45 L121.80,100.65 L122.64,100.84 L123.48,101.02 L124.32,101.19 L125.16,101.34 L126.00,101.50 L126.84,101.64 L127.68,101.77 L128.52,101.90 L129.37,102.02 L130.21,102.14 L131.05,102.25 L131.89,102.35 L132.73,102.45 L133.57,102.54 L134.41,102.63 L135.25,102.71 L136.09,102.79 L136.93,102.87 L137.77,102.94 L138.61,103.00 L139.46,103.07 L140.30,103.13 L141.14,103.18 L141.98,103.24 L142.82,103.29 L143.66,103.34 L144.50,103.38" fill="none" stroke="#000" stroke-width="0.9" stroke-linejoin="round"/>
<path d="M39.40,110.60 L40.24,109.76 L41.08,108.96 L41.92,108.21 L42.76,107.50 L43.60,106.84 L44.44,106.21 L45.29,105.62 L46.13,105.06 L46.97,104.54 L47.81,104.04 L48.65,103.58 L49.49,103.14 L50.33,102.72 L51.17,102.33 L52.01,101.97 L52.85,101.62 L53.69,101.30 L54.53,100.99 L55.38,100.70 L56.22,100.43 L57.06,100.17 L57.90,99.93 L58.74,99.70 L59.58,99.48 L60.42,99.28 L61.26,99.09 L62.10,98.91 L62.94,98.74 L63.78,98.58 L64.62,98.43 L65.46,98.29 L66.31,98.16 L67.15,98.03 L67.99,97.91 L68.83,97.80 L69.67,97.70 L70.51,97.60 L71.35,97.50 L72.19,97.42 L73.03,97.33 L73.87,97.26 L74.71,97.18 L75.55,97.11 L76.40,97.05 L77.24,96.99 L78.08,96.93 L78.92,96.87 L79.76,96.82 L80.60,96.77 L81.44,96.73 L82.28,96.68 L83.12,96.64 L83.96,96.61 L84.80,96.57 L85.64,96.54 L86.48,96.50 L87.33,96.47 L88.17,96.45 L89.01,96.42 L89.85,96.39 L90.69,96.37 L91.53,96.35 L92.37,96.33 L93.21,96.31 L94.05,96.29 L94.89,96.27 L95.73,96.25 L96.57,96.24 L97.42,96.22 L98.26,96.21 L99.10,96.20 L99.94,96.18 L100.78,96.17 L101.62,96.16 L102.46,96.15 L102.46,97.41 L103.30,97.82 L104.14,98.21 L104.98,98.57 L105.82,98.92 L106.66,99.24 L107.50,99.55 L108.35,99.85 L109.19,100.12 L110.03,100.39 L110.87,100.64 L111.71,100.87 L112.55,101.10 L113.39,101.31 L114.23,101.51 L115.07,101.70 L115.91,101.88 L116.75,102.05 L117.59,102.21 L118.44,102.37 L119.28,102.51 L120.12,102.65 L120.96,102.78 L121.80,102.90 L122.64,103.02 L123.48,103.13 L124.32,103.23 L125.16,103.33 L126.00,103.43 L126.84,103.52 L127.68,103.60 L128.52,103.68 L129.37,103.76 L130.21,103.83 L131.05,103.90 L131.89,103.96 L132.73,104.02 L133.57,104.08 L134.41,104.13 L135.25,104.18 L136.09,104.23 L136.93,104.28 L137.77,104.32 L138.61,104.37 L139.46,104.41 L140.30,104.44 L141.14,104.48 L141.98,104.51 L142.82,104.54 L143.66,104.57 L144.50,104.60" fill="none" stroke="#000" stroke-width="0.9" stroke-linejoin="round"/>
<path d="M39.40,110.60 L40.24,109.84 L41.08,109.13 L41.92,108.45 L42.76,107.81 L43.60,107.21 L44.44,106.65 L45.29,106.11 L46.13,105.61 L46.97,105.13 L47.81,104.69 L48.65,104.26 L49.49,103.86 L50.33,103.49 L51.17,103.13 L52.01,102.80 L52.85,102.48 L53.69,102.19 L54.53,101.91 L55.38,101.64 L56.22,101.39 L57.06,101.15 L57.90,100.93 L58.74,100.72 L59.58,100.53 L60.42,100.34 L61.26,100.16 L62.10,100.00 L62.94,99.84 L63.78,99.69 L64.62,99.55 L65.46,99.42 L66.31,99.30 L67.15,99.18 L67.99,99.07 L68.83,98.97 L69.67,98.87 L70.51,98.78 L71.35,98.69 L72.19,98.61 L73.03,98.53 L73.87,98.46 L74.71,98.39 L75.55,98.32 L76.40,98.26 L77.24,98.20 L78.08,98.15 L78.92,98.10 L79.76,98.05 L80.60,98.00 L81.44,97.96 L82.28,97.92 L83.12,97.88 L83.96,97.84 L84.80,97.81 L85.64,97.78 L86.48,97.75 L87.33,97.72 L88.17,97.69 L89.01,97.67 L89.85,97.64 L90.69,97.62 L91.53,97.60 L92.37,97.58 L93.21,97.56 L94.05,97.54 L94.89,97.52 L95.73,97.51 L96.57,97.49 L97.42,97.48 L98.26,97.46 L99.10,97.45 L99.94,97.44 L100.78,97.43 L101.62,97.42 L102.46,97.41 L102.46,98.46 L103.30,98.82 L104.14,99.17 L104.98,99.49 L105.82,99.80 L106.66,100.10 L107.50,100.37 L108.35,100.64 L109.19,100.88 L110.03,101.12 L110.87,101.34 L111.71,101.55 L112.55,101.75 L113.39,101.94 L114.23,102.12 L115.07,102.29 L115.91,102.46 L116.75,102.61 L117.59,102.75 L118.44,102.89 L119.28,103.02 L120.12,103.14 L120.96,103.26 L121.80,103.37 L122.64,103.47 L123.48,103.57 L124.32,103.67 L125.16,103.76 L126.00,103.84 L126.84,103.92 L127.68,103.99 L128.52,104.07 L129.37,104.13 L130.21,104.20 L131.05,104.26 L131.89,104.32 L132.73,104.37 L133.57,104.42 L134.41,104.47 L135.25,104.52 L136.09,104.56 L136.93,104.60 L137.77,104.64 L138.61,104.68 L139.46,104.72 L140.30,104.75 L141.14,104.78 L141.98,104.81 L142.82,104.84 L143.66,104.87 L144.50,104.89" fill="none" stroke="#000" stroke-width="0.9" stroke-linejoin="round"/>
<path d="M39.40,110.60 L40.24,110.00 L41.08,109.43 L41.92,108.89 L42.76,108.38 L43.60,107.90 L44.44,107.45 L45.29,107.02 L46.13,106.61 L46.97,106.23 L47.81,105.87 L48.65,105.53 L49.49,105.21 L50.33,104.91 L51.17,104.62 L52.01,104.35 L52.85,104.10 L53.69,103.86 L54.53,103.63 L55.38,103.41 L56.22,103.21 L57.06,103.02 L57.90,102.84 L58.74,102.67 L59.58,102.51 L60.42,102.35 L61.26,102.21 L62.10,102.07 L62.94,101.95 L63.78,101.82 L64.62,101.71 L65.46,101.60 L66.31,101.50 L67.15,101.40 L67.99,101.31 L68.83,101.23 L69.67,101.15 L70.51,101.07 L71.35,101.00 L72.19,100.93 L73.03,100.86 L73.87,100.80 L74.71,100.75 L75.55,100.69 L76.40,100.64 L77.24,100.59 L78.08,100.55 L78.92,100.50 L79.76,100.46 L80.60,100.42 L81.44,100.39 L82.28,100.35 L83.12,100.32 L83.96,100.29 L84.80,100.26 L85.64,100.24 L86.48,100.21 L87.33,100.19 L88.17,100.16 L89.01,100.14 L89.85,100.12 L90.69,100.10 L91.53,100.08 L92.37,100.07 L93.21,100.05 L94.05,100.03 L94.89,100.02 L95.73,100.01 L96.57,99.99 L97.42,99.98 L98.26,99.97 L99.10,99.96 L99.94,99.95 L100.78,99.94 L101.62,99.93 L102.46,99.92 L102.46,100.61 L103.30,100.89 L104.14,101.16 L104.98,101.41 L105.82,101.64 L106.66,101.87 L107.50,102.08 L108.35,102.28 L109.19,102.48 L110.03,102.66 L110.87,102.83 L111.71,102.99 L112.55,103.15 L113.39,103.29 L114.23,103.43 L115.07,103.56 L115.91,103.69 L116.75,103.80 L117.59,103.91 L118.44,104.02 L119.28,104.12 L120.12,104.21 L120.96,104.30 L121.80,104.39 L122.64,104.47 L123.48,104.55 L124.32,104.62 L125.16,104.69 L126.00,104.75 L126.84,104.81 L127.68,104.87 L128.52,104.93 L129.37,104.98 L130.21,105.03 L131.05,105.07 L131.89,105.12 L132.73,105.16 L133.57,105.20 L134.41,105.24 L135.25,105.27 L136.09,105.31 L136.93,105.34 L137.77,105.37 L138.61,105.40 L139.46,105.43 L140.30,105.45 L141.14,105.48 L141.98,105.50 L142.82,105.52 L143.66,105.54 L144.50,105.56" fill="none" stroke="#000" stroke-width="0.9" stroke-linejoin="round"/>
<path d="M39.40,110.60 L40.24,110.09 L41.08,109.60 L41.92,109.15 L42.76,108.71 L43.60,108.31 L44.44,107.92 L45.29,107.55 L46.13,107.21 L46.97,106.88 L47.81,106.57 L48.65,106.28 L49.49,106.01 L50.33,105.75 L51.17,105.50 L52.01,105.27 L52.85,105.05 L53.69,104.84 L54.53,104.64 L55.38,104.46 L56.22,104.28 L57.06,104.12 L57.90,103.96 L58.74,103.81 L59.58,103.67 L60.42,103.54 L61.26,103.41 L62.10,103.29 L62.94,103.18 L63.78,103.08 L64.62,102.98 L65.46,102.88 L66.31,102.79 L67.15,102.71 L67.99,102.63 L68.83,102.55 L69.67,102.48 L70.51,102.41 L71.35,102.35 L72.19,102.29 L73.03,102.23 L73.87,102.18 L74.71,102.13 L75.55,102.08 L76.40,102.03 L77.24,101.99 L78.08,101.95 L78.92,101.91 L79.76,101.88 L80.60,101.84 L81.44,101.81 L82.28,101.78 L83.12,101.75 L83.96,101.72 L84.80,101.70 L85.64,101.67 L86.48,101.65 L87.33,101.63 L88.17,101.61 L89.01,101.59 L89.85,101.57 L90.69,101.55 L91.53,101.53 L92.37,101.52 L93.21,101.50 L94.05,101.49 L94.89,101.48 L95.73,101.46 L96.57,101.45 L97.42,101.44 L98.26,101.43 L99.10,101.42 L99.94,101.41 L100.78,101.40 L101.62,101.39 L102.46,101.39 L102.46,101.90 L103.30,102.13 L104.14,102.35 L104.98,102.56 L105.82,102.76 L106.66,102.95 L107.50,103.12 L108.35,103.29 L109.19,103.45 L110.03,103.60 L110.87,103.75 L111.71,103.88 L112.55,104.01 L113.39,104.13 L114.23,104.25 L115.07,104.35 L115.91,104.46 L116.75,104.56 L117.59,104.65 L118.44,104.74 L119.28,104.82 L120.12,104.90 L120.96,104.97 L121.80,105.04 L122.64,105.11 L123.48,105.17 L124.32,105.23 L125.16,105.29 L126.00,105.34 L126.84,105.39 L127.68,105.44 L128.52,105.49 L129.37,105.53 L130.21,105.57 L131.05,105.61 L131.89,105.65 L132.73,105.68 L133.57,105.72 L134.41,105.75 L135.25,105.78 L136.09,105.81 L136.93,105.83 L137.77,105.86 L138.61,105.88 L139.46,105.90 L140.30,105.93 L141.14,105.95 L141.98,105.97 L142.82,105.98 L143.66,106.00 L144.50,106.02" fill="none" stroke="#000" stroke-width="0.9" stroke-linejoin="round"/>
<path d="M39.40,110.60 L40.24,110.23 L41.08,109.89 L41.92,109.56 L42.76,109.25 L43.60,108.96 L44.44,108.68 L45.29,108.42 L46.13,108.17 L46.97,107.93 L47.81,107.71 L48.65,107.50 L49.49,107.30 L50.33,107.11 L51.17,106.93 L52.01,106.76 L52.85,106.60 L53.69,106.45 L54.53,106.31 L55.38,106.18 L56.22,106.05 L57.06,105.93 L57.90,105.81 L58.74,105.70 L59.58,105.60 L60.42,105.50 L61.26,105.41 L62.10,105.32 L62.94,105.24 L63.78,105.16 L64.62,105.09 L65.46,105.02 L66.31,104.95 L67.15,104.89 L67.99,104.83 L68.83,104.78 L69.67,104.72 L70.51,104.67 L71.35,104.63 L72.19,104.58 L73.03,104.54 L73.87,104.50 L74.71,104.46 L75.55,104.42 L76.40,104.39 L77.24,104.36 L78.08,104.33 L78.92,104.30 L79.76,104.27 L80.60,104.25 L81.44,104.22 L82.28,104.20 L83.12,104.18 L83.96,104.16 L84.80,104.14 L85.64,104.12 L86.48,104.10 L87.33,104.08 L88.17,104.07 L89.01,104.05 L89.85,104.04 L90.69,104.03 L91.53,104.01 L92.37,104.00 L93.21,103.99 L94.05,103.98 L94.89,103.97 L95.73,103.96 L96.57,103.95 L97.42,103.94 L98.26,103.93 L99.10,103.93 L99.94,103.92 L100.78,103.91 L101.62,103.91 L102.46,103.90 L102.46,104.17 L103.30,104.33 L104.14,104.48 L104.98,104.62 L105.82,104.75 L106.66,104.87 L107.50,104.99 L108.35,105.11 L109.19,105.21 L110.03,105.32 L110.87,105.41 L111.71,105.50 L112.55,105.59 L113.39,105.67 L114.23,105.75 L115.07,105.82 L115.91,105.89 L116.75,105.96 L117.59,106.02 L118.44,106.08 L119.28,106.13 L120.12,106.19 L120.96,106.24 L121.80,106.28 L122.64,106.33 L123.48,106.37 L124.32,106.41 L125.16,106.45 L126.00,106.49 L126.84,106.52 L127.68,106.55 L128.52,106.58 L129.37,106.61 L130.21,106.64 L131.05,106.67 L131.89,106.69 L132.73,106.71 L133.57,106.74 L134.41,106.76 L135.25,106.78 L136.09,106.80 L136.93,106.81 L137.77,106.83 L138.61,106.85 L139.46,106.86 L140.30,106.88 L141.14,106.89 L141.98,106.90 L142.82,106.92 L143.66,106.93 L144.50,106.94" fill="none" stroke="#000" stroke-width="0.9" stroke-linejoin="round"/>
<path d="M39.40,110.60 L40.24,110.31 L41.08,110.03 L41.92,109.77 L42.76,109.52 L43.60,109.29 L44.44,109.06 L45.29,108.85 L46.13,108.65 L46.97,108.46 L47.81,108.28 L48.65,108.11 L49.49,107.95 L50.33,107.80 L51.17,107.66 L52.01,107.52 L52.85,107.39 L53.69,107.27 L54.53,107.15 L55.38,107.04 L56.22,106.94 L57.06,106.84 L57.90,106.74 L58.74,106.65 L59.58,106.57 L60.42,106.49 L61.26,106.42 L62.10,106.34 L62.94,106.28 L63.78,106.21 L64.62,106.15 L65.46,106.09 L66.31,106.04 L67.15,105.99 L67.99,105.94 L68.83,105.89 L69.67,105.85 L70.51,105.81 L71.35,105.77 L72.19,105.73 L73.03,105.70 L73.87,105.66 L74.71,105.63 L75.55,105.60 L76.40,105.57 L77.24,105.54 L78.08,105.52 L78.92,105.49 L79.76,105.47 L80.60,105.45 L81.44,105.43 L82.28,105.41 L83.12,105.39 L83.96,105.37 L84.80,105.36 L85.64,105.34 L86.48,105.33 L87.33,105.31 L88.17,105.30 L89.01,105.29 L89.85,105.28 L90.69,105.26 L91.53,105.25 L92.37,105.24 L93.21,105.23 L94.05,105.22 L94.89,105.22 L95.73,105.21 L96.57,105.20 L97.42,105.19 L98.26,105.19 L99.10,105.18 L99.94,105.17 L100.78,105.17 L101.62,105.16 L102.46,105.16 L102.46,105.33 L103.30,105.46 L104.14,105.57 L104.98,105.68 L105.82,105.78 L106.66,105.88 L107.50,105.97 L108.35,106.06 L109.19,106.14 L110.03,106.22 L110.87,106.29 L111.71,106.36 L112.55,106.43 L113.39,106.49 L114.23,106.55 L115.07,106.61 L115.91,106.66 L116.75,106.72 L117.59,106.76 L118.44,106.81 L119.28,106.85 L120.12,106.89 L120.96,106.93 L121.80,106.97 L122.64,107.00 L123.48,107.04 L124.32,107.07 L125.16,107.10 L126.00,107.13 L126.84,107.15 L127.68,107.18 L128.52,107.20 L129.37,107.22 L130.21,107.24 L131.05,107.27 L131.89,107.28 L132.73,107.30 L133.57,107.32 L134.41,107.34 L135.25,107.35 L136.09,107.37 L136.93,107.38 L137.77,107.39 L138.61,107.41 L139.46,107.42 L140.30,107.43 L141.14,107.44 L141.98,107.45 L142.82,107.46 L143.66,107.47 L144.50,107.48" fill="none" stroke="#000" stroke-width="0.9" stroke-linejoin="round"/>
<path d="M39.40,110.60 L40.24,110.42 L41.08,110.26 L41.92,110.10 L42.76,109.95 L43.60,109.80 L44.44,109.67 L45.29,109.54 L46.13,109.42 L46.97,109.30 L47.81,109.19 L48.65,109.09 L49.49,108.99 L50.33,108.90 L51.17,108.81 L52.01,108.73 L52.85,108.65 L53.69,108.57 L54.53,108.50 L55.38,108.43 L56.22,108.37 L57.06,108.31 L57.90,108.25 L58.74,108.19 L59.58,108.14 L60.42,108.09 L61.26,108.04 L62.10,108.00 L62.94,107.96 L63.78,107.92 L64.62,107.88 L65.46,107.84 L66.31,107.81 L67.15,107.78 L67.99,107.75 L68.83,107.72 L69.67,107.69 L70.51,107.66 L71.35,107.64 L72.19,107.62 L73.03,107.59 L73.87,107.57 L74.71,107.55 L75.55,107.53 L76.40,107.52 L77.24,107.50 L78.08,107.48 L78.92,107.47 L79.76,107.45 L80.60,107.44 L81.44,107.43 L82.28,107.41 L83.12,107.40 L83.96,107.39 L84.80,107.38 L85.64,107.37 L86.48,107.36 L87.33,107.35 L88.17,107.34 L89.01,107.33 L89.85,107.33 L90.69,107.32 L91.53,107.31 L92.37,107.31 L93.21,107.30 L94.05,107.29 L94.89,107.29 L95.73,107.28 L96.57,107.28 L97.42,107.27 L98.26,107.27 L99.10,107.26 L99.94,107.26 L100.78,107.26 L101.62,107.25 L102.46,107.25 L102.46,107.32 L103.30,107.38 L104.14,107.45 L104.98,107.51 L105.82,107.57 L106.66,107.62 L107.50,107.67 L108.35,107.72 L109.19,107.77 L110.03,107.81 L110.87,107.85 L111.71,107.89 L112.55,107.93 L113.39,107.96 L114.23,108.00 L115.07,108.03 L115.91,108.06 L116.75,108.09 L117.59,108.11 L118.44,108.14 L119.28,108.16 L120.12,108.18 L120.96,108.21 L121.80,108.23 L122.64,108.25 L123.48,108.26 L124.32,108.28 L125.16,108.30 L126.00,108.31 L126.84,108.33 L127.68,108.34 L128.52,108.36 L129.37,108.37 L130.21,108.38 L131.05,108.39 L131.89,108.40 L132.73,108.41 L133.57,108.42 L134.41,108.43 L135.25,108.44 L136.09,108.45 L136.93,108.45 L137.77,108.46 L138.61,108.47 L139.46,108.48 L140.30,108.48 L141.14,108.49 L141.98,108.49 L142.82,108.50 L143.66,108.50 L144.50,108.51" fill="none" stroke="#000" stroke-width="0.9" stroke-linejoin="round"/>
<path d="M39.40,110.60 L40.24,110.49 L41.08,110.39 L41.92,110.29 L42.76,110.20 L43.60,110.11 L44.44,110.03 L45.29,109.95 L46.13,109.87 L46.97,109.80 L47.81,109.73 L48.65,109.67 L49.49,109.61 L50.33,109.55 L51.17,109.49 L52.01,109.44 L52.85,109.39 L53.69,109.35 L54.53,109.30 L55.38,109.26 L56.22,109.22 L57.06,109.18 L57.90,109.14 L58.74,109.11 L59.58,109.08 L60.42,109.05 L61.26,109.02 L62.10,108.99 L62.94,108.96 L63.78,108.94 L64.62,108.91 L65.46,108.89 L66.31,108.87 L67.15,108.85 L67.99,108.83 L68.83,108.81 L69.67,108.79 L70.51,108.77 L71.35,108.76 L72.19,108.74 L73.03,108.73 L73.87,108.72 L74.71,108.70 L75.55,108.69 L76.40,108.68 L77.24,108.67 L78.08,108.66 L78.92,108.65 L79.76,108.64 L80.60,108.63 L81.44,108.62 L82.28,108.61 L83.12,108.61 L83.96,108.60 L84.80,108.59 L85.64,108.59 L86.48,108.58 L87.33,108.57 L88.17,108.57 L89.01,108.56 L89.85,108.56 L90.69,108.55 L91.53,108.55 L92.37,108.54 L93.21,108.54 L94.05,108.54 L94.89,108.53 L95.73,108.53 L96.57,108.52 L97.42,108.52 L98.26,108.52 L99.10,108.52 L99.94,108.51 L100.78,108.51 L101.62,108.51 L102.46,108.51 L102.46,108.53 L103.30,108.57 L104.14,108.61 L104.98,108.64 L105.82,108.68 L106.66,108.71 L107.50,108.74 L108.35,108.77 L109.19,108.79 L110.03,108.82 L110.87,108.84 L111.71,108.86 L112.55,108.89 L113.39,108.91 L114.23,108.93 L115.07,108.94 L115.91,108.96 L116.75,108.98 L117.59,108.99 L118.44,109.01 L119.28,109.02 L120.12,109.03 L120.96,109.05 L121.80,109.06 L122.64,109.07 L123.48,109.08 L124.32,109.09 L125.16,109.10 L126.00,109.11 L126.84,109.12 L127.68,109.13 L128.52,109.13 L129.37,109.14 L130.21,109.15 L131.05,109.15 L131.89,109.16 L132.73,109.17 L133.57,109.17 L134.41,109.18 L135.25,109.18 L136.09,109.19 L136.93,109.19 L137.77,109.20 L138.61,109.20 L139.46,109.20 L140.30,109.21 L141.14,109.21 L141.98,109.21 L142.82,109.22 L143.66,109.22 L144.50,109.22" fill="none" stroke="#000" stroke-width="0.9" stroke-linejoin="round"/>
<path d="M215.20,110.60 L215.20,73.47 L216.22,72.38 L217.25,71.35 L218.27,70.36 L219.29,69.42 L220.32,68.52 L221.34,67.67 L222.37,66.85 L223.39,66.06 L224.41,65.32 L225.44,64.61 L226.46,63.93 L227.48,63.28 L228.51,62.66 L229.53,62.07 L230.56,61.50 L231.58,60.96 L232.60,60.45 L233.63,59.96 L234.65,59.49 L235.67,59.04 L236.70,58.61 L237.72,58.21 L238.74,57.82 L239.77,57.44 L240.79,57.09 L241.82,56.75 L242.84,56.43 L243.86,56.12 L244.89,55.83 L245.91,55.54 L246.93,55.28 L247.96,55.02 L248.98,54.78 L250.01,54.54 L251.03,54.32 L252.05,54.11 L253.08,53.90 L254.10,53.71 L255.12,53.52 L256.15,53.35 L257.17,53.18 L258.19,53.02 L259.22,52.86 L260.24,52.72 L261.27,52.58 L262.29,52.44 L263.31,52.32 L264.34,52.20 L265.36,52.08 L266.38,51.97 L267.41,51.86 L268.43,51.76 L269.46,51.66 L270.48,51.57 L271.50,51.48 L272.53,51.40 L273.55,51.32 L274.57,51.24 L275.60,51.17 L276.62,51.10 L277.64,51.03 L278.67,50.97 L279.69,50.91 L280.72,50.85 L281.74,50.80 L282.76,50.74 L283.79,50.69 L284.81,50.65 L285.83,50.60 L286.86,50.56 L287.88,50.51 L288.91,50.47 L289.93,50.44 L290.95,50.40 L291.98,50.37 L291.98,83.49 L292.67,84.07 L293.37,84.64 L294.06,85.20 L294.76,85.74 L295.45,86.27 L296.15,86.79 L296.85,87.30 L297.54,87.80 L298.24,88.29 L298.93,88.76 L299.63,89.23 L300.32,89.69 L301.02,90.13 L301.71,90.57 L302.41,91.00 L303.11,91.42 L303.80,91.83 L304.50,92.23 L305.19,92.62 L305.89,93.01 L306.58,93.38 L307.28,93.75 L307.97,94.11 L308.67,94.46 L309.37,94.81 L310.06,95.15 L310.76,95.48 L311.45,95.80 L312.15,96.12 L312.84,96.43 L313.54,96.73 L314.24,97.03 L314.93,97.32 L315.63,97.60 L316.32,97.88 L317.02,98.15 L317.71,98.42 L318.41,98.68 L319.10,98.93 L319.80,99.18" fill="none" stroke="#000" stroke-width="0.9" stroke-linejoin="round"/>
<path d="M215.20,110.60 L215.20,75.51 L216.22,74.52 L217.25,73.57 L218.27,72.66 L219.29,71.79 L220.32,70.95 L221.34,70.15 L222.37,69.39 L223.39,68.66 L224.41,67.96 L225.44,67.29 L226.46,66.65 L227.48,66.04 L228.51,65.46 L229.53,64.89 L230.56,64.36 L231.58,63.84 L232.60,63.35 L233.63,62.88 L234.65,62.43 L235.67,62.00 L236.70,61.59 L237.72,61.20 L238.74,60.82 L239.77,60.46 L240.79,60.11 L241.82,59.78 L242.84,59.47 L243.86,59.16 L244.89,58.87 L245.91,58.60 L246.93,58.33 L247.96,58.08 L248.98,57.84 L250.01,57.60 L251.03,57.38 L252.05,57.17 L253.08,56.96 L254.10,56.77 L255.12,56.58 L256.15,56.40 L257.17,56.23 L258.19,56.07 L259.22,55.91 L260.24,55.76 L261.27,55.62 L262.29,55.48 L263.31,55.35 L264.34,55.23 L265.36,55.11 L266.38,54.99 L267.41,54.88 L268.43,54.78 L269.46,54.68 L270.48,54.58 L271.50,54.49 L272.53,54.40 L273.55,54.32 L274.57,54.23 L275.60,54.16 L276.62,54.08 L277.64,54.01 L278.67,53.95 L279.69,53.88 L280.72,53.82 L281.74,53.76 L282.76,53.70 L283.79,53.65 L284.81,53.60 L285.83,53.55 L286.86,53.50 L287.88,53.45 L288.91,53.41 L289.93,53.37 L290.95,53.33 L291.98,53.29 L291.98,84.81 L292.67,85.36 L293.37,85.90 L294.06,86.43 L294.76,86.95 L295.45,87.45 L296.15,87.95 L296.85,88.43 L297.54,88.91 L298.24,89.37 L298.93,89.82 L299.63,90.27 L300.32,90.70 L301.02,91.13 L301.71,91.54 L302.41,91.95 L303.11,92.35 L303.80,92.74 L304.50,93.12 L305.19,93.50 L305.89,93.86 L306.58,94.22 L307.28,94.57 L307.97,94.91 L308.67,95.25 L309.37,95.58 L310.06,95.90 L310.76,96.21 L311.45,96.52 L312.15,96.82 L312.84,97.11 L313.54,97.40 L314.24,97.69 L314.93,97.96 L315.63,98.23 L316.32,98.50 L317.02,98.75 L317.71,99.01 L318.41,99.26 L319.10,99.50 L319.80,99.74" fill="none" stroke="#000" stroke-width="0.9" stroke-linejoin="round"/>
<path d="M215.20,110.60 L215.20,86.04 L216.22,85.47 L217.25,84.91 L218.27,84.36 L219.29,83.84 L220.32,83.32 L221.34,82.82 L222.37,82.33 L223.39,81.86 L224.41,81.40 L225.44,80.95 L226.46,80.51 L227.48,80.08 L228.51,79.67 L229.53,79.26 L230.56,78.87 L231.58,78.49 L232.60,78.11 L233.63,77.75 L234.65,77.40 L235.67,77.06 L236.70,76.72 L237.72,76.40 L238.74,76.08 L239.77,75.77 L240.79,75.47 L241.82,75.18 L242.84,74.89 L243.86,74.62 L244.89,74.35 L245.91,74.08 L246.93,73.83 L247.96,73.58 L248.98,73.34 L250.01,73.10 L251.03,72.87 L252.05,72.65 L253.08,72.43 L254.10,72.22 L255.12,72.01 L256.15,71.81 L257.17,71.62 L258.19,71.43 L259.22,71.24 L260.24,71.06 L261.27,70.89 L262.29,70.72 L263.31,70.55 L264.34,70.39 L265.36,70.23 L266.38,70.08 L267.41,69.93 L268.43,69.78 L269.46,69.64 L270.48,69.50 L271.50,69.37 L272.53,69.24 L273.55,69.11 L274.57,68.99 L275.60,68.87 L276.62,68.75 L277.64,68.64 L278.67,68.53 L279.69,68.42 L280.72,68.31 L281.74,68.21 L282.76,68.11 L283.79,68.01 L284.81,67.92 L285.83,67.83 L286.86,67.74 L287.88,67.65 L288.91,67.57 L289.93,67.48 L290.95,67.40 L291.98,67.32 L291.98,91.13 L292.67,91.54 L293.37,91.95 L294.06,92.35 L294.76,92.74 L295.45,93.12 L296.15,93.49 L296.85,93.86 L297.54,94.22 L298.24,94.57 L298.93,94.91 L299.63,95.25 L300.32,95.57 L301.02,95.90 L301.71,96.21 L302.41,96.52 L303.11,96.82 L303.80,97.11 L304.50,97.40 L305.19,97.68 L305.89,97.96 L306.58,98.23 L307.28,98.50 L307.97,98.75 L308.67,99.01 L309.37,99.26 L310.06,99.50 L310.76,99.74 L311.45,99.97 L312.15,100.19 L312.84,100.42 L313.54,100.63 L314.24,100.85 L314.93,101.06 L315.63,101.26 L316.32,101.46 L317.02,101.66 L317.71,101.85 L318.41,102.03 L319.10,102.22 L319.80,102.40" fill="none" stroke="#000" stroke-width="0.9" stroke-linejoin="round"/>
<path d="M215.20,110.60 L215.20,88.96 L216.22,88.40 L217.25,87.85 L218.27,87.31 L219.29,86.79 L220.32,86.29 L221.34,85.79 L222.37,85.31 L223.39,84.85 L224.41,84.39 L225.44,83.95 L226.46,83.52 L227.48,83.10 L228.51,82.69 L229.53,82.29 L230.56,81.91 L231.58,81.53 L232.60,81.16 L233.63,80.81 L234.65,80.46 L235.67,80.12 L236.70,79.79 L237.72,79.47 L238.74,79.16 L239.77,78.85 L240.79,78.56 L241.82,78.27 L242.84,77.99 L243.86,77.72 L244.89,77.45 L245.91,77.19 L246.93,76.94 L247.96,76.70 L248.98,76.46 L250.01,76.23 L251.03,76.00 L252.05,75.78 L253.08,75.57 L254.10,75.36 L255.12,75.16 L256.15,74.96 L257.17,74.77 L258.19,74.58 L259.22,74.40 L260.24,74.22 L261.27,74.05 L262.29,73.88 L263.31,73.72 L264.34,73.56 L265.36,73.40 L266.38,73.25 L267.41,73.10 L268.43,72.96 L269.46,72.82 L270.48,72.69 L271.50,72.55 L272.53,72.43 L273.55,72.30 L274.57,72.18 L275.60,72.06 L276.62,71.94 L277.64,71.83 L278.67,71.72 L279.69,71.62 L280.72,71.51 L281.74,71.41 L282.76,71.31 L283.79,71.22 L284.81,71.13 L285.83,71.04 L286.86,70.95 L287.88,70.86 L288.91,70.78 L289.93,70.70 L290.95,70.62 L291.98,70.54 L291.98,92.57 L292.67,92.96 L293.37,93.34 L294.06,93.71 L294.76,94.07 L295.45,94.42 L296.15,94.77 L296.85,95.10 L297.54,95.44 L298.24,95.76 L298.93,96.08 L299.63,96.39 L300.32,96.69 L301.02,96.99 L301.71,97.28 L302.41,97.56 L303.11,97.84 L303.80,98.12 L304.50,98.38 L305.19,98.64 L305.89,98.90 L306.58,99.15 L307.28,99.39 L307.97,99.63 L308.67,99.87 L309.37,100.10 L310.06,100.32 L310.76,100.54 L311.45,100.76 L312.15,100.97 L312.84,101.17 L313.54,101.38 L314.24,101.57 L314.93,101.77 L315.63,101.95 L316.32,102.14 L317.02,102.32 L317.71,102.50 L318.41,102.67 L319.10,102.84 L319.80,103.01" fill="none" stroke="#000" stroke-width="0.9" stroke-linejoin="round"/>
<path d="M215.20,110.60 L215.20,98.32 L216.22,97.87 L217.25,97.44 L218.27,97.01 L219.29,96.60 L220.32,96.20 L221.34,95.80 L222.37,95.42 L223.39,95.04 L224.41,94.67 L225.44,94.32 L226.46,93.97 L227.48,93.63 L228.51,93.30 L229.53,92.97 L230.56,92.65 L231.58,92.35 L232.60,92.04 L233.63,91.75 L234.65,91.46 L235.67,91.18 L236.70,90.91 L237.72,90.64 L238.74,90.38 L239.77,90.13 L240.79,89.88 L241.82,89.64 L242.84,89.40 L243.86,89.17 L244.89,88.95 L245.91,88.73 L246.93,88.52 L247.96,88.31 L248.98,88.10 L250.01,87.90 L251.03,87.71 L252.05,87.52 L253.08,87.34 L254.10,87.16 L255.12,86.98 L256.15,86.81 L257.17,86.64 L258.19,86.48 L259.22,86.32 L260.24,86.16 L261.27,86.01 L262.29,85.86 L263.31,85.72 L264.34,85.58 L265.36,85.44 L266.38,85.30 L267.41,85.17 L268.43,85.05 L269.46,84.92 L270.48,84.80 L271.50,84.68 L272.53,84.56 L273.55,84.45 L274.57,84.34 L275.60,84.23 L276.62,84.13 L277.64,84.02 L278.67,83.92 L279.69,83.83 L280.72,83.73 L281.74,83.64 L282.76,83.55 L283.79,83.46 L284.81,83.37 L285.83,83.29 L286.86,83.21 L287.88,83.12 L288.91,83.05 L289.93,82.97 L290.95,82.89 L291.98,82.82 L291.98,98.10 L292.67,98.37 L293.37,98.63 L294.06,98.88 L294.76,99.14 L295.45,99.38 L296.15,99.62 L296.85,99.85 L297.54,100.08 L298.24,100.31 L298.93,100.53 L299.63,100.74 L300.32,100.96 L301.02,101.16 L301.71,101.36 L302.41,101.56 L303.11,101.75 L303.80,101.94 L304.50,102.13 L305.19,102.31 L305.89,102.49 L306.58,102.66 L307.28,102.83 L307.97,103.00 L308.67,103.16 L309.37,103.32 L310.06,103.47 L310.76,103.63 L311.45,103.78 L312.15,103.92 L312.84,104.06 L313.54,104.20 L314.24,104.34 L314.93,104.47 L315.63,104.61 L316.32,104.73 L317.02,104.86 L317.71,104.98 L318.41,105.10 L319.10,105.22 L319.80,105.33" fill="none" stroke="#000" stroke-width="0.9" stroke-linejoin="round"/>
<path d="M215.20,110.60 L215.20,100.07 L216.22,99.63 L217.25,99.19 L218.27,98.77 L219.29,98.35 L220.32,97.95 L221.34,97.56 L222.37,97.17 L223.39,96.80 L224.41,96.43 L225.44,96.07 L226.46,95.72 L227.48,95.38 L228.51,95.05 L229.53,94.73 L230.56,94.41 L231.58,94.10 L232.60,93.80 L233.63,93.50 L234.65,93.22 L235.67,92.94 L236.70,92.66 L237.72,92.40 L238.74,92.14 L239.77,91.88 L240.79,91.64 L241.82,91.39 L242.84,91.16 L243.86,90.93 L244.89,90.70 L245.91,90.48 L246.93,90.27 L247.96,90.06 L248.98,89.86 L250.01,89.66 L251.03,89.47 L252.05,89.28 L253.08,89.09 L254.10,88.91 L255.12,88.73 L256.15,88.56 L257.17,88.40 L258.19,88.23 L259.22,88.07 L260.24,87.92 L261.27,87.77 L262.29,87.62 L263.31,87.47 L264.34,87.33 L265.36,87.19 L266.38,87.06 L267.41,86.93 L268.43,86.80 L269.46,86.68 L270.48,86.55 L271.50,86.43 L272.53,86.32 L273.55,86.21 L274.57,86.09 L275.60,85.99 L276.62,85.88 L277.64,85.78 L278.67,85.68 L279.69,85.58 L280.72,85.49 L281.74,85.39 L282.76,85.30 L283.79,85.21 L284.81,85.13 L285.83,85.04 L286.86,84.96 L287.88,84.88 L288.91,84.80 L289.93,84.72 L290.95,84.65 L291.98,84.58 L291.98,98.89 L292.67,99.14 L293.37,99.38 L294.06,99.62 L294.76,99.86 L295.45,100.09 L296.15,100.31 L296.85,100.53 L297.54,100.75 L298.24,100.96 L298.93,101.17 L299.63,101.37 L300.32,101.56 L301.02,101.76 L301.71,101.95 L302.41,102.13 L303.11,102.31 L303.80,102.49 L304.50,102.66 L305.19,102.83 L305.89,103.00 L306.58,103.16 L307.28,103.32 L307.97,103.48 L308.67,103.63 L309.37,103.78 L310.06,103.92 L310.76,104.07 L311.45,104.21 L312.15,104.34 L312.84,104.48 L313.54,104.61 L314.24,104.74 L314.93,104.86 L315.63,104.98 L316.32,105.10 L317.02,105.22 L317.71,105.34 L318.41,105.45 L319.10,105.56 L319.80,105.67" fill="none" stroke="#000" stroke-width="0.9" stroke-linejoin="round"/>
<path d="M215.20,110.60 L215.20,104.46 L216.22,104.16 L217.25,103.86 L218.27,103.57 L219.29,103.29 L220.32,103.02 L221.34,102.75 L222.37,102.49 L223.39,102.23 L224.41,101.98 L225.44,101.74 L226.46,101.50 L227.48,101.27 L228.51,101.05 L229.53,100.83 L230.56,100.61 L231.58,100.40 L232.60,100.20 L233.63,100.00 L234.65,99.80 L235.67,99.61 L236.70,99.43 L237.72,99.25 L238.74,99.07 L239.77,98.90 L240.79,98.73 L241.82,98.56 L242.84,98.40 L243.86,98.25 L244.89,98.09 L245.91,97.95 L246.93,97.80 L247.96,97.66 L248.98,97.52 L250.01,97.39 L251.03,97.25 L252.05,97.13 L253.08,97.00 L254.10,96.88 L255.12,96.76 L256.15,96.64 L257.17,96.53 L258.19,96.42 L259.22,96.31 L260.24,96.20 L261.27,96.10 L262.29,96.00 L263.31,95.90 L264.34,95.80 L265.36,95.71 L266.38,95.62 L267.41,95.53 L268.43,95.44 L269.46,95.36 L270.48,95.28 L271.50,95.20 L272.53,95.12 L273.55,95.04 L274.57,94.96 L275.60,94.89 L276.62,94.82 L277.64,94.75 L278.67,94.68 L279.69,94.62 L280.72,94.55 L281.74,94.49 L282.76,94.43 L283.79,94.37 L284.81,94.31 L285.83,94.25 L286.86,94.19 L287.88,94.14 L288.91,94.09 L289.93,94.03 L290.95,93.98 L291.98,93.93 L291.98,103.10 L292.67,103.26 L293.37,103.42 L294.06,103.57 L294.76,103.72 L295.45,103.87 L296.15,104.01 L296.85,104.15 L297.54,104.29 L298.24,104.43 L298.93,104.56 L299.63,104.69 L300.32,104.81 L301.02,104.94 L301.71,105.06 L302.41,105.18 L303.11,105.29 L303.80,105.41 L304.50,105.52 L305.19,105.63 L305.89,105.73 L306.58,105.84 L307.28,105.94 L307.97,106.04 L308.67,106.14 L309.37,106.23 L310.06,106.32 L310.76,106.42 L311.45,106.51 L312.15,106.59 L312.84,106.68 L313.54,106.76 L314.24,106.84 L314.93,106.92 L315.63,107.00 L316.32,107.08 L317.02,107.16 L317.71,107.23 L318.41,107.30 L319.10,107.37 L319.80,107.44" fill="none" stroke="#000" stroke-width="0.9" stroke-linejoin="round"/>
<path d="M215.20,110.60 L215.20,105.78 L216.22,105.47 L217.25,105.17 L218.27,104.88 L219.29,104.59 L220.32,104.31 L221.34,104.04 L222.37,103.78 L223.39,103.52 L224.41,103.27 L225.44,103.02 L226.46,102.78 L227.48,102.54 L228.51,102.32 L229.53,102.09 L230.56,101.87 L231.58,101.66 L232.60,101.45 L233.63,101.25 L234.65,101.05 L235.67,100.86 L236.70,100.67 L237.72,100.49 L238.74,100.31 L239.77,100.14 L240.79,99.96 L241.82,99.80 L242.84,99.64 L243.86,99.48 L244.89,99.32 L245.91,99.17 L246.93,99.02 L247.96,98.88 L248.98,98.74 L250.01,98.60 L251.03,98.47 L252.05,98.34 L253.08,98.21 L254.10,98.09 L255.12,97.97 L256.15,97.85 L257.17,97.73 L258.19,97.62 L259.22,97.51 L260.24,97.40 L261.27,97.30 L262.29,97.20 L263.31,97.10 L264.34,97.00 L265.36,96.91 L266.38,96.81 L267.41,96.72 L268.43,96.63 L269.46,96.55 L270.48,96.46 L271.50,96.38 L272.53,96.30 L273.55,96.22 L274.57,96.15 L275.60,96.07 L276.62,96.00 L277.64,95.93 L278.67,95.86 L279.69,95.79 L280.72,95.73 L281.74,95.66 L282.76,95.60 L283.79,95.54 L284.81,95.48 L285.83,95.42 L286.86,95.37 L287.88,95.31 L288.91,95.26 L289.93,95.20 L290.95,95.15 L291.98,95.10 L291.98,103.63 L292.67,103.78 L293.37,103.92 L294.06,104.06 L294.76,104.20 L295.45,104.34 L296.15,104.47 L296.85,104.61 L297.54,104.73 L298.24,104.86 L298.93,104.98 L299.63,105.10 L300.32,105.22 L301.02,105.33 L301.71,105.45 L302.41,105.56 L303.11,105.67 L303.80,105.77 L304.50,105.87 L305.19,105.97 L305.89,106.07 L306.58,106.17 L307.28,106.27 L307.97,106.36 L308.67,106.45 L309.37,106.54 L310.06,106.62 L310.76,106.71 L311.45,106.79 L312.15,106.87 L312.84,106.95 L313.54,107.03 L314.24,107.11 L314.93,107.18 L315.63,107.26 L316.32,107.33 L317.02,107.40 L317.71,107.47 L318.41,107.53 L319.10,107.60 L319.80,107.66" fill="none" stroke="#000" stroke-width="0.9" stroke-linejoin="round"/>
<path d="M215.20,110.60 L215.20,107.97 L216.22,107.77 L217.25,107.59 L218.27,107.40 L219.29,107.22 L220.32,107.05 L221.34,106.88 L222.37,106.71 L223.39,106.55 L224.41,106.39 L225.44,106.23 L226.46,106.08 L227.48,105.93 L228.51,105.79 L229.53,105.65 L230.56,105.51 L231.58,105.38 L232.60,105.25 L233.63,105.12 L234.65,104.99 L235.67,104.87 L236.70,104.75 L237.72,104.64 L238.74,104.52 L239.77,104.41 L240.79,104.31 L241.82,104.20 L242.84,104.10 L243.86,104.00 L244.89,103.90 L245.91,103.81 L246.93,103.71 L247.96,103.62 L248.98,103.54 L250.01,103.45 L251.03,103.36 L252.05,103.28 L253.08,103.20 L254.10,103.12 L255.12,103.05 L256.15,102.97 L257.17,102.90 L258.19,102.83 L259.22,102.76 L260.24,102.69 L261.27,102.63 L262.29,102.56 L263.31,102.50 L264.34,102.44 L265.36,102.38 L266.38,102.32 L267.41,102.26 L268.43,102.21 L269.46,102.15 L270.48,102.10 L271.50,102.05 L272.53,102.00 L273.55,101.95 L274.57,101.90 L275.60,101.86 L276.62,101.81 L277.64,101.76 L278.67,101.72 L279.69,101.68 L280.72,101.64 L281.74,101.60 L282.76,101.56 L283.79,101.52 L284.81,101.48 L285.83,101.45 L286.86,101.41 L287.88,101.37 L288.91,101.34 L289.93,101.31 L290.95,101.27 L291.98,101.24 L291.98,106.39 L292.67,106.48 L293.37,106.57 L294.06,106.65 L294.76,106.74 L295.45,106.82 L296.15,106.90 L296.85,106.98 L297.54,107.06 L298.24,107.13 L298.93,107.21 L299.63,107.28 L300.32,107.35 L301.02,107.42 L301.71,107.49 L302.41,107.56 L303.11,107.62 L303.80,107.68 L304.50,107.75 L305.19,107.81 L305.89,107.87 L306.58,107.93 L307.28,107.98 L307.97,108.04 L308.67,108.09 L309.37,108.15 L310.06,108.20 L310.76,108.25 L311.45,108.30 L312.15,108.35 L312.84,108.40 L313.54,108.45 L314.24,108.49 L314.93,108.54 L315.63,108.58 L316.32,108.62 L317.02,108.67 L317.71,108.71 L318.41,108.75 L319.10,108.79 L319.80,108.83" fill="none" stroke="#000" stroke-width="0.9" stroke-linejoin="round"/>
<path d="M215.20,110.60 L215.20,108.55 L216.22,108.38 L217.25,108.20 L218.27,108.04 L219.29,107.87 L220.32,107.71 L221.34,107.56 L222.37,107.40 L223.39,107.25 L224.41,107.11 L225.44,106.97 L226.46,106.83 L227.48,106.69 L228.51,106.56 L229.53,106.43 L230.56,106.31 L231.58,106.19 L232.60,106.07 L233.63,105.95 L234.65,105.84 L235.67,105.73 L236.70,105.62 L237.72,105.51 L238.74,105.41 L239.77,105.31 L240.79,105.21 L241.82,105.11 L242.84,105.02 L243.86,104.93 L244.89,104.84 L245.91,104.75 L246.93,104.67 L247.96,104.59 L248.98,104.51 L250.01,104.43 L251.03,104.35 L252.05,104.27 L253.08,104.20 L254.10,104.13 L255.12,104.06 L256.15,103.99 L257.17,103.93 L258.19,103.86 L259.22,103.80 L260.24,103.74 L261.27,103.68 L262.29,103.62 L263.31,103.56 L264.34,103.50 L265.36,103.45 L266.38,103.40 L267.41,103.34 L268.43,103.29 L269.46,103.24 L270.48,103.20 L271.50,103.15 L272.53,103.10 L273.55,103.06 L274.57,103.01 L275.60,102.97 L276.62,102.93 L277.64,102.89 L278.67,102.85 L279.69,102.81 L280.72,102.77 L281.74,102.74 L282.76,102.70 L283.79,102.66 L284.81,102.63 L285.83,102.60 L286.86,102.56 L287.88,102.53 L288.91,102.50 L289.93,102.47 L290.95,102.44 L291.98,102.41 L291.98,106.92 L292.67,106.99 L293.37,107.07 L294.06,107.15 L294.76,107.22 L295.45,107.29 L296.15,107.36 L296.85,107.43 L297.54,107.50 L298.24,107.57 L298.93,107.63 L299.63,107.70 L300.32,107.76 L301.02,107.82 L301.71,107.88 L302.41,107.94 L303.11,107.99 L303.80,108.05 L304.50,108.10 L305.19,108.16 L305.89,108.21 L306.58,108.26 L307.28,108.31 L307.97,108.36 L308.67,108.41 L309.37,108.45 L310.06,108.50 L310.76,108.54 L311.45,108.59 L312.15,108.63 L312.84,108.67 L313.54,108.71 L314.24,108.76 L314.93,108.79 L315.63,108.83 L316.32,108.87 L317.02,108.91 L317.71,108.94 L318.41,108.98 L319.10,109.01 L319.80,109.05" fill="none" stroke="#000" stroke-width="0.9" stroke-linejoin="round"/>
<path d="M383.40,110.50 L383.40,105.30 L386.87,105.43 L390.33,105.54 L393.80,105.64 L397.27,105.73 L400.73,105.81 L404.20,105.88 L407.67,105.95 L411.13,106.00 L414.60,106.05 L418.06,106.09 L421.53,106.13 L425.00,106.16 L428.46,106.19 L431.93,106.22 L435.40,106.24 L438.86,106.26 L442.33,106.28 L445.80,106.29 L449.26,106.31 L452.73,106.32 L452.85,110.27 L479.31,110.27" fill="none" stroke="#000" stroke-width="1.1" stroke-linejoin="round"/>
<path d="M383.40,110.50 L383.40,106.06 L386.87,106.16 L390.33,106.25 L393.80,106.33 L397.27,106.41 L400.73,106.47 L404.20,106.53 L407.67,106.58 L411.13,106.62 L414.60,106.66 L418.06,106.69 L421.53,106.72 L425.00,106.75 L428.46,106.77 L431.93,106.79 L435.40,106.81 L438.86,106.83 L442.33,106.84 L445.80,106.85 L449.26,106.86 L452.73,106.87 L452.85,110.27 L479.31,110.27" fill="none" stroke="#000" stroke-width="0.6" stroke-linejoin="round"/>
<path d="M383.40,110.50 L383.40,107.28 L386.87,107.33 L390.33,107.37 L393.80,107.40 L397.27,107.43 L400.73,107.46 L404.20,107.49 L407.67,107.51 L411.13,107.53 L414.60,107.54 L418.06,107.56 L421.53,107.57 L425.00,107.58 L428.46,107.59 L431.93,107.60 L435.40,107.61 L438.86,107.61 L442.33,107.62 L445.80,107.63 L449.26,107.63 L452.73,107.63 L452.85,110.27 L479.31,110.27" fill="none" stroke="#000" stroke-width="0.6" stroke-linejoin="round"/>
<path d="M383.40,110.50 L383.40,108.31 L386.87,108.33 L390.33,108.34 L393.80,108.36 L397.27,108.37 L400.73,108.38 L404.20,108.39 L407.67,108.40 L411.13,108.41 L414.60,108.41 L418.06,108.42 L421.53,108.43 L425.00,108.43 L428.46,108.43 L431.93,108.44 L435.40,108.44 L438.86,108.44 L442.33,108.45 L445.80,108.45 L449.26,108.45 L452.73,108.45 L452.85,110.27 L479.31,110.27" fill="none" stroke="#000" stroke-width="0.9" stroke-linejoin="round"/>
<path d="M383.40,110.50 L383.40,109.04 L386.87,109.05 L390.33,109.05 L393.80,109.06 L397.27,109.06 L400.73,109.07 L404.20,109.07 L407.67,109.08 L411.13,109.08 L414.60,109.08 L418.06,109.08 L421.53,109.09 L425.00,109.09 L428.46,109.09 L431.93,109.09 L435.40,109.09 L438.86,109.09 L442.33,109.09 L445.80,109.09 L449.26,109.10 L452.73,109.10 L452.85,110.27 L479.31,110.27" fill="none" stroke="#000" stroke-width="1.0" stroke-linejoin="round"/>
<path d="M383.40,110.50 L383.40,109.77 L386.87,109.77 L390.33,109.77 L393.80,109.77 L397.27,109.77 L400.73,109.77 L404.20,109.77 L407.67,109.77 L411.13,109.77 L414.60,109.77 L418.06,109.77 L421.53,109.77 L425.00,109.77 L428.46,109.77 L431.93,109.77 L435.40,109.77 L438.86,109.77 L442.33,109.77 L445.80,109.77 L449.26,109.77 L452.73,109.77 L452.85,110.27 L479.31,110.27" fill="none" stroke="#000" stroke-width="1.0" stroke-linejoin="round"/>
<path d="M39.50,243.30 L39.50,235.34 L40.39,234.89 L41.28,234.46 L42.17,234.05 L43.06,233.66 L43.94,233.28 L44.83,232.92 L45.72,232.58 L46.61,232.25 L47.50,231.93 L48.39,231.63 L49.28,231.34 L50.17,231.06 L51.05,230.80 L51.94,230.54 L52.83,230.30 L53.72,230.07 L54.61,229.85 L55.50,229.63 L56.39,229.43 L57.28,229.24 L58.16,229.05 L59.05,228.87 L59.94,228.70 L60.83,228.54 L61.72,228.38 L62.61,228.23 L63.50,228.09 L64.39,227.95 L65.28,227.82 L66.16,227.69 L67.05,227.57 L67.94,227.46 L68.83,227.35 L69.72,227.24 L70.61,227.14 L71.50,227.05 L72.39,226.96 L73.27,226.87 L74.16,226.78 L75.05,226.70 L75.94,226.62 L76.83,226.55 L77.72,226.48 L78.61,226.41 L79.50,226.35 L80.38,226.29 L81.27,226.23 L82.16,226.17 L83.05,226.12 L83.94,226.06 L84.83,226.01 L85.72,225.97 L86.61,225.92 L87.50,225.88 L88.38,225.83 L89.27,225.79 L90.16,225.76 L91.05,225.72 L91.94,225.68 L92.83,225.65 L93.72,225.62 L94.61,225.59 L95.49,225.56 L96.38,225.53 L97.27,225.50 L98.16,225.48 L99.05,225.45 L99.94,225.43 L100.83,225.41 L101.72,225.39 L102.60,225.37 L103.49,225.35 L104.38,225.33 L105.27,225.31 L106.16,225.29 L106.16,233.25 L107.05,233.43 L107.94,233.60 L108.83,233.77 L109.72,233.94 L110.60,234.10 L111.49,234.26 L112.38,234.41 L113.27,234.57 L114.16,234.71 L115.05,234.86 L115.94,235.00 L116.83,235.14 L117.71,235.28 L118.60,235.41 L119.49,235.54 L120.38,235.67 L121.27,235.80 L122.16,235.92 L123.05,236.04 L123.94,236.15 L124.82,236.27 L125.71,236.38 L126.60,236.49 L127.49,236.60 L128.38,236.70 L129.27,236.80 L130.16,236.90 L131.05,237.00 L131.94,237.10 L132.82,237.19 L133.71,237.28 L134.60,237.37 L135.49,237.46 L136.38,237.55 L137.27,237.63 L138.16,237.71 L139.05,237.79 L139.93,237.87 L140.82,237.95 L141.71,238.02 L142.60,238.10 L143.49,238.17 L144.38,238.24 L145.27,238.31 L146.16,238.38 L147.04,238.44 L147.93,238.51 L148.82,238.57 L149.71,238.63 L150.60,238.69" fill="none" stroke="#000" stroke-width="0.75" stroke-linejoin="round"/>
<path d="M39.50,243.30 L39.50,236.39 L40.39,236.11 L41.28,235.83 L42.17,235.57 L43.06,235.31 L43.94,235.06 L44.83,234.82 L45.72,234.59 L46.61,234.36 L47.50,234.14 L48.39,233.93 L49.28,233.72 L50.17,233.53 L51.05,233.33 L51.94,233.15 L52.83,232.97 L53.72,232.79 L54.61,232.62 L55.50,232.46 L56.39,232.30 L57.28,232.14 L58.16,232.00 L59.05,231.85 L59.94,231.71 L60.83,231.58 L61.72,231.44 L62.61,231.32 L63.50,231.19 L64.39,231.07 L65.28,230.96 L66.16,230.85 L67.05,230.74 L67.94,230.63 L68.83,230.53 L69.72,230.43 L70.61,230.34 L71.50,230.25 L72.39,230.16 L73.27,230.07 L74.16,229.99 L75.05,229.91 L75.94,229.83 L76.83,229.75 L77.72,229.68 L78.61,229.61 L79.50,229.54 L80.38,229.47 L81.27,229.40 L82.16,229.34 L83.05,229.28 L83.94,229.22 L84.83,229.16 L85.72,229.11 L86.61,229.06 L87.50,229.00 L88.38,228.95 L89.27,228.90 L90.16,228.86 L91.05,228.81 L91.94,228.77 L92.83,228.73 L93.72,228.68 L94.61,228.64 L95.49,228.60 L96.38,228.57 L97.27,228.53 L98.16,228.50 L99.05,228.46 L99.94,228.43 L100.83,228.40 L101.72,228.36 L102.60,228.33 L103.49,228.31 L104.38,228.28 L105.27,228.25 L106.16,228.22 L106.16,235.13 L107.05,235.28 L107.94,235.43 L108.83,235.57 L109.72,235.72 L110.60,235.85 L111.49,235.99 L112.38,236.12 L113.27,236.25 L114.16,236.37 L115.05,236.50 L115.94,236.62 L116.83,236.74 L117.71,236.85 L118.60,236.96 L119.49,237.07 L120.38,237.18 L121.27,237.29 L122.16,237.39 L123.05,237.49 L123.94,237.59 L124.82,237.69 L125.71,237.78 L126.60,237.88 L127.49,237.97 L128.38,238.05 L129.27,238.14 L130.16,238.23 L131.05,238.31 L131.94,238.39 L132.82,238.47 L133.71,238.55 L134.60,238.62 L135.49,238.70 L136.38,238.77 L137.27,238.84 L138.16,238.91 L139.05,238.98 L139.93,239.05 L140.82,239.11 L141.71,239.17 L142.60,239.24 L143.49,239.30 L144.38,239.36 L145.27,239.42 L146.16,239.47 L147.04,239.53 L147.93,239.58 L148.82,239.64 L149.71,239.69 L150.60,239.74" fill="none" stroke="#000" stroke-width="0.55" stroke-linejoin="round"/>
<path d="M39.50,243.30 L39.50,237.02 L40.39,236.76 L41.28,236.50 L42.17,236.26 L43.06,236.02 L43.94,235.79 L44.83,235.57 L45.72,235.35 L46.61,235.15 L47.50,234.94 L48.39,234.75 L49.28,234.56 L50.17,234.37 L51.05,234.20 L51.94,234.02 L52.83,233.86 L53.72,233.70 L54.61,233.54 L55.50,233.39 L56.39,233.24 L57.28,233.10 L58.16,232.96 L59.05,232.83 L59.94,232.70 L60.83,232.57 L61.72,232.45 L62.61,232.34 L63.50,232.22 L64.39,232.11 L65.28,232.01 L66.16,231.90 L67.05,231.80 L67.94,231.71 L68.83,231.61 L69.72,231.52 L70.61,231.43 L71.50,231.35 L72.39,231.26 L73.27,231.18 L74.16,231.11 L75.05,231.03 L75.94,230.96 L76.83,230.89 L77.72,230.82 L78.61,230.76 L79.50,230.69 L80.38,230.63 L81.27,230.57 L82.16,230.51 L83.05,230.46 L83.94,230.40 L84.83,230.35 L85.72,230.30 L86.61,230.25 L87.50,230.20 L88.38,230.15 L89.27,230.11 L90.16,230.07 L91.05,230.02 L91.94,229.98 L92.83,229.94 L93.72,229.90 L94.61,229.87 L95.49,229.83 L96.38,229.80 L97.27,229.76 L98.16,229.73 L99.05,229.70 L99.94,229.67 L100.83,229.64 L101.72,229.61 L102.60,229.58 L103.49,229.56 L104.38,229.53 L105.27,229.50 L106.16,229.48 L106.16,236.39 L107.05,236.52 L107.94,236.65 L108.83,236.77 L109.72,236.89 L110.60,237.01 L111.49,237.13 L112.38,237.24 L113.27,237.35 L114.16,237.46 L115.05,237.57 L115.94,237.67 L116.83,237.77 L117.71,237.87 L118.60,237.97 L119.49,238.07 L120.38,238.16 L121.27,238.25 L122.16,238.34 L123.05,238.43 L123.94,238.51 L124.82,238.60 L125.71,238.68 L126.60,238.76 L127.49,238.84 L128.38,238.91 L129.27,238.99 L130.16,239.06 L131.05,239.13 L131.94,239.20 L132.82,239.27 L133.71,239.34 L134.60,239.40 L135.49,239.47 L136.38,239.53 L137.27,239.59 L138.16,239.65 L139.05,239.71 L139.93,239.77 L140.82,239.82 L141.71,239.88 L142.60,239.93 L143.49,239.99 L144.38,240.04 L145.27,240.09 L146.16,240.14 L147.04,240.19 L147.93,240.23 L148.82,240.28 L149.71,240.32 L150.60,240.37" fill="none" stroke="#000" stroke-width="0.55" stroke-linejoin="round"/>
<path d="M39.50,243.30 L39.50,237.65 L40.39,237.41 L41.28,237.19 L42.17,236.97 L43.06,236.76 L43.94,236.56 L44.83,236.36 L45.72,236.17 L46.61,235.98 L47.50,235.80 L48.39,235.63 L49.28,235.46 L50.17,235.30 L51.05,235.14 L51.94,234.99 L52.83,234.84 L53.72,234.69 L54.61,234.55 L55.50,234.42 L56.39,234.29 L57.28,234.16 L58.16,234.04 L59.05,233.92 L59.94,233.81 L60.83,233.70 L61.72,233.59 L62.61,233.48 L63.50,233.38 L64.39,233.29 L65.28,233.19 L66.16,233.10 L67.05,233.01 L67.94,232.92 L68.83,232.84 L69.72,232.76 L70.61,232.68 L71.50,232.61 L72.39,232.53 L73.27,232.46 L74.16,232.39 L75.05,232.33 L75.94,232.26 L76.83,232.20 L77.72,232.14 L78.61,232.08 L79.50,232.02 L80.38,231.97 L81.27,231.91 L82.16,231.86 L83.05,231.81 L83.94,231.76 L84.83,231.72 L85.72,231.67 L86.61,231.63 L87.50,231.59 L88.38,231.54 L89.27,231.50 L90.16,231.47 L91.05,231.43 L91.94,231.39 L92.83,231.36 L93.72,231.32 L94.61,231.29 L95.49,231.26 L96.38,231.23 L97.27,231.20 L98.16,231.17 L99.05,231.14 L99.94,231.11 L100.83,231.09 L101.72,231.06 L102.60,231.04 L103.49,231.01 L104.38,230.99 L105.27,230.97 L106.16,230.95 L106.16,237.23 L107.05,237.34 L107.94,237.46 L108.83,237.57 L109.72,237.68 L110.60,237.78 L111.49,237.89 L112.38,237.99 L113.27,238.09 L114.16,238.19 L115.05,238.28 L115.94,238.37 L116.83,238.47 L117.71,238.55 L118.60,238.64 L119.49,238.73 L120.38,238.81 L121.27,238.89 L122.16,238.97 L123.05,239.05 L123.94,239.13 L124.82,239.20 L125.71,239.27 L126.60,239.35 L127.49,239.42 L128.38,239.48 L129.27,239.55 L130.16,239.62 L131.05,239.68 L131.94,239.74 L132.82,239.81 L133.71,239.87 L134.60,239.92 L135.49,239.98 L136.38,240.04 L137.27,240.09 L138.16,240.15 L139.05,240.20 L139.93,240.25 L140.82,240.30 L141.71,240.35 L142.60,240.40 L143.49,240.45 L144.38,240.49 L145.27,240.54 L146.16,240.58 L147.04,240.62 L147.93,240.67 L148.82,240.71 L149.71,240.75 L150.60,240.79" fill="none" stroke="#000" stroke-width="0.55" stroke-linejoin="round"/>
<path d="M39.50,243.30 L39.50,238.69 L40.39,238.50 L41.28,238.31 L42.17,238.12 L43.06,237.95 L43.94,237.77 L44.83,237.61 L45.72,237.45 L46.61,237.29 L47.50,237.14 L48.39,236.99 L49.28,236.85 L50.17,236.71 L51.05,236.58 L51.94,236.45 L52.83,236.32 L53.72,236.20 L54.61,236.08 L55.50,235.97 L56.39,235.86 L57.28,235.75 L58.16,235.65 L59.05,235.55 L59.94,235.45 L60.83,235.36 L61.72,235.27 L62.61,235.18 L63.50,235.10 L64.39,235.01 L65.28,234.93 L66.16,234.86 L67.05,234.78 L67.94,234.71 L68.83,234.64 L69.72,234.57 L70.61,234.50 L71.50,234.44 L72.39,234.38 L73.27,234.32 L74.16,234.26 L75.05,234.20 L75.94,234.15 L76.83,234.10 L77.72,234.05 L78.61,234.00 L79.50,233.95 L80.38,233.90 L81.27,233.86 L82.16,233.81 L83.05,233.77 L83.94,233.73 L84.83,233.69 L85.72,233.65 L86.61,233.62 L87.50,233.58 L88.38,233.55 L89.27,233.51 L90.16,233.48 L91.05,233.45 L91.94,233.42 L92.83,233.39 L93.72,233.36 L94.61,233.33 L95.49,233.30 L96.38,233.28 L97.27,233.25 L98.16,233.23 L99.05,233.20 L99.94,233.18 L100.83,233.16 L101.72,233.14 L102.60,233.12 L103.49,233.10 L104.38,233.08 L105.27,233.06 L106.16,233.04 L106.16,238.06 L107.05,238.16 L107.94,238.25 L108.83,238.35 L109.72,238.44 L110.60,238.52 L111.49,238.61 L112.38,238.69 L113.27,238.77 L114.16,238.85 L115.05,238.93 L115.94,239.01 L116.83,239.08 L117.71,239.16 L118.60,239.23 L119.49,239.30 L120.38,239.37 L121.27,239.44 L122.16,239.50 L123.05,239.57 L123.94,239.63 L124.82,239.69 L125.71,239.75 L126.60,239.81 L127.49,239.87 L128.38,239.92 L129.27,239.98 L130.16,240.03 L131.05,240.09 L131.94,240.14 L132.82,240.19 L133.71,240.24 L134.60,240.29 L135.49,240.33 L136.38,240.38 L137.27,240.42 L138.16,240.47 L139.05,240.51 L139.93,240.55 L140.82,240.60 L141.71,240.64 L142.60,240.68 L143.49,240.72 L144.38,240.75 L145.27,240.79 L146.16,240.83 L147.04,240.86 L147.93,240.90 L148.82,240.93 L149.71,240.96 L150.60,241.00" fill="none" stroke="#000" stroke-width="0.65" stroke-linejoin="round"/>
<path d="M39.50,243.30 L39.50,239.95 L40.39,239.83 L41.28,239.71 L42.17,239.60 L43.06,239.49 L43.94,239.38 L44.83,239.28 L45.72,239.17 L46.61,239.07 L47.50,238.97 L48.39,238.88 L49.28,238.79 L50.17,238.69 L51.05,238.60 L51.94,238.52 L52.83,238.43 L53.72,238.35 L54.61,238.27 L55.50,238.19 L56.39,238.11 L57.28,238.04 L58.16,237.96 L59.05,237.89 L59.94,237.82 L60.83,237.75 L61.72,237.69 L62.61,237.62 L63.50,237.56 L64.39,237.49 L65.28,237.43 L66.16,237.37 L67.05,237.32 L67.94,237.26 L68.83,237.20 L69.72,237.15 L70.61,237.10 L71.50,237.05 L72.39,237.00 L73.27,236.95 L74.16,236.90 L75.05,236.85 L75.94,236.81 L76.83,236.76 L77.72,236.72 L78.61,236.68 L79.50,236.64 L80.38,236.60 L81.27,236.56 L82.16,236.52 L83.05,236.48 L83.94,236.44 L84.83,236.41 L85.72,236.37 L86.61,236.34 L87.50,236.31 L88.38,236.27 L89.27,236.24 L90.16,236.21 L91.05,236.18 L91.94,236.15 L92.83,236.12 L93.72,236.09 L94.61,236.07 L95.49,236.04 L96.38,236.01 L97.27,235.99 L98.16,235.96 L99.05,235.94 L99.94,235.91 L100.83,235.89 L101.72,235.87 L102.60,235.85 L103.49,235.82 L104.38,235.80 L105.27,235.78 L106.16,235.76 L106.16,240.16 L107.05,240.21 L107.94,240.25 L108.83,240.30 L109.72,240.34 L110.60,240.39 L111.49,240.43 L112.38,240.47 L113.27,240.51 L114.16,240.55 L115.05,240.59 L115.94,240.63 L116.83,240.67 L117.71,240.71 L118.60,240.74 L119.49,240.78 L120.38,240.81 L121.27,240.84 L122.16,240.88 L123.05,240.91 L123.94,240.94 L124.82,240.97 L125.71,241.00 L126.60,241.03 L127.49,241.06 L128.38,241.09 L129.27,241.12 L130.16,241.14 L131.05,241.17 L131.94,241.20 L132.82,241.22 L133.71,241.25 L134.60,241.27 L135.49,241.29 L136.38,241.32 L137.27,241.34 L138.16,241.36 L139.05,241.38 L139.93,241.40 L140.82,241.42 L141.71,241.44 L142.60,241.46 L143.49,241.48 L144.38,241.50 L145.27,241.52 L146.16,241.54 L147.04,241.56 L147.93,241.57 L148.82,241.59 L149.71,241.61 L150.60,241.62" fill="none" stroke="#000" stroke-width="0.85" stroke-linejoin="round"/>
<path d="M39.50,243.30 L39.50,240.79 L40.39,240.70 L41.28,240.61 L42.17,240.53 L43.06,240.44 L43.94,240.36 L44.83,240.28 L45.72,240.21 L46.61,240.13 L47.50,240.06 L48.39,239.98 L49.28,239.91 L50.17,239.85 L51.05,239.78 L51.94,239.71 L52.83,239.65 L53.72,239.59 L54.61,239.53 L55.50,239.47 L56.39,239.41 L57.28,239.35 L58.16,239.30 L59.05,239.24 L59.94,239.19 L60.83,239.14 L61.72,239.09 L62.61,239.04 L63.50,238.99 L64.39,238.95 L65.28,238.90 L66.16,238.86 L67.05,238.81 L67.94,238.77 L68.83,238.73 L69.72,238.69 L70.61,238.65 L71.50,238.61 L72.39,238.57 L73.27,238.54 L74.16,238.50 L75.05,238.47 L75.94,238.43 L76.83,238.40 L77.72,238.36 L78.61,238.33 L79.50,238.30 L80.38,238.27 L81.27,238.24 L82.16,238.21 L83.05,238.19 L83.94,238.16 L84.83,238.13 L85.72,238.10 L86.61,238.08 L87.50,238.05 L88.38,238.03 L89.27,238.01 L90.16,237.98 L91.05,237.96 L91.94,237.94 L92.83,237.92 L93.72,237.89 L94.61,237.87 L95.49,237.85 L96.38,237.83 L97.27,237.81 L98.16,237.80 L99.05,237.78 L99.94,237.76 L100.83,237.74 L101.72,237.73 L102.60,237.71 L103.49,237.69 L104.38,237.68 L105.27,237.66 L106.16,237.65 L106.16,241.00 L107.05,241.03 L107.94,241.06 L108.83,241.10 L109.72,241.13 L110.60,241.16 L111.49,241.19 L112.38,241.22 L113.27,241.25 L114.16,241.28 L115.05,241.31 L115.94,241.33 L116.83,241.36 L117.71,241.39 L118.60,241.41 L119.49,241.44 L120.38,241.46 L121.27,241.49 L122.16,241.51 L123.05,241.53 L123.94,241.56 L124.82,241.58 L125.71,241.60 L126.60,241.62 L127.49,241.64 L128.38,241.66 L129.27,241.68 L130.16,241.70 L131.05,241.72 L131.94,241.74 L132.82,241.75 L133.71,241.77 L134.60,241.79 L135.49,241.81 L136.38,241.82 L137.27,241.84 L138.16,241.86 L139.05,241.87 L139.93,241.89 L140.82,241.90 L141.71,241.92 L142.60,241.93 L143.49,241.94 L144.38,241.96 L145.27,241.97 L146.16,241.98 L147.04,242.00 L147.93,242.01 L148.82,242.02 L149.71,242.03 L150.60,242.04" fill="none" stroke="#000" stroke-width="1.0" stroke-linejoin="round"/>
<path d="M39.50,243.30 L39.50,241.42 L40.39,241.35 L41.28,241.29 L42.17,241.22 L43.06,241.16 L43.94,241.10 L44.83,241.05 L45.72,240.99 L46.61,240.93 L47.50,240.88 L48.39,240.83 L49.28,240.78 L50.17,240.72 L51.05,240.68 L51.94,240.63 L52.83,240.58 L53.72,240.54 L54.61,240.49 L55.50,240.45 L56.39,240.40 L57.28,240.36 L58.16,240.32 L59.05,240.28 L59.94,240.24 L60.83,240.21 L61.72,240.17 L62.61,240.13 L63.50,240.10 L64.39,240.07 L65.28,240.03 L66.16,240.00 L67.05,239.97 L67.94,239.94 L68.83,239.91 L69.72,239.88 L70.61,239.85 L71.50,239.82 L72.39,239.79 L73.27,239.76 L74.16,239.74 L75.05,239.71 L75.94,239.69 L76.83,239.66 L77.72,239.64 L78.61,239.62 L79.50,239.59 L80.38,239.57 L81.27,239.55 L82.16,239.53 L83.05,239.51 L83.94,239.49 L84.83,239.47 L85.72,239.45 L86.61,239.43 L87.50,239.41 L88.38,239.39 L89.27,239.38 L90.16,239.36 L91.05,239.34 L91.94,239.33 L92.83,239.31 L93.72,239.29 L94.61,239.28 L95.49,239.26 L96.38,239.25 L97.27,239.24 L98.16,239.22 L99.05,239.21 L99.94,239.20 L100.83,239.18 L101.72,239.17 L102.60,239.16 L103.49,239.15 L104.38,239.13 L105.27,239.12 L106.16,239.11 L106.16,241.62 L107.05,241.65 L107.94,241.67 L108.83,241.69 L109.72,241.72 L110.60,241.74 L111.49,241.76 L112.38,241.78 L113.27,241.80 L114.16,241.82 L115.05,241.84 L115.94,241.86 L116.83,241.88 L117.71,241.90 L118.60,241.92 L119.49,241.93 L120.38,241.95 L121.27,241.97 L122.16,241.98 L123.05,242.00 L123.94,242.02 L124.82,242.03 L125.71,242.05 L126.60,242.06 L127.49,242.08 L128.38,242.09 L129.27,242.10 L130.16,242.12 L131.05,242.13 L131.94,242.14 L132.82,242.16 L133.71,242.17 L134.60,242.18 L135.49,242.19 L136.38,242.20 L137.27,242.21 L138.16,242.23 L139.05,242.24 L139.93,242.25 L140.82,242.26 L141.71,242.27 L142.60,242.28 L143.49,242.29 L144.38,242.30 L145.27,242.31 L146.16,242.32 L147.04,242.32 L147.93,242.33 L148.82,242.34 L149.71,242.35 L150.60,242.36" fill="none" stroke="#000" stroke-width="1.0" stroke-linejoin="round"/>
<path d="M39.50,243.30 L39.50,242.04 L40.39,242.00 L41.28,241.95 L42.17,241.90 L43.06,241.86 L43.94,241.82 L44.83,241.77 L45.72,241.73 L46.61,241.69 L47.50,241.65 L48.39,241.62 L49.28,241.58 L50.17,241.54 L51.05,241.51 L51.94,241.47 L52.83,241.44 L53.72,241.40 L54.61,241.37 L55.50,241.34 L56.39,241.31 L57.28,241.28 L58.16,241.25 L59.05,241.22 L59.94,241.19 L60.83,241.16 L61.72,241.14 L62.61,241.11 L63.50,241.09 L64.39,241.06 L65.28,241.04 L66.16,241.01 L67.05,240.99 L67.94,240.97 L68.83,240.95 L69.72,240.92 L70.61,240.90 L71.50,240.88 L72.39,240.86 L73.27,240.84 L74.16,240.82 L75.05,240.81 L75.94,240.79 L76.83,240.77 L77.72,240.75 L78.61,240.73 L79.50,240.72 L80.38,240.70 L81.27,240.69 L82.16,240.67 L83.05,240.66 L83.94,240.64 L84.83,240.63 L85.72,240.61 L86.61,240.60 L87.50,240.59 L88.38,240.57 L89.27,240.56 L90.16,240.55 L91.05,240.54 L91.94,240.52 L92.83,240.51 L93.72,240.50 L94.61,240.49 L95.49,240.48 L96.38,240.47 L97.27,240.46 L98.16,240.45 L99.05,240.44 L99.94,240.43 L100.83,240.42 L101.72,240.41 L102.60,240.40 L103.49,240.39 L104.38,240.38 L105.27,240.38 L106.16,240.37 L106.16,242.04 L107.05,242.06 L107.94,242.08 L108.83,242.09 L109.72,242.11 L110.60,242.13 L111.49,242.14 L112.38,242.16 L113.27,242.17 L114.16,242.18 L115.05,242.20 L115.94,242.21 L116.83,242.23 L117.71,242.24 L118.60,242.25 L119.49,242.26 L120.38,242.28 L121.27,242.29 L122.16,242.30 L123.05,242.31 L123.94,242.32 L124.82,242.33 L125.71,242.34 L126.60,242.36 L127.49,242.37 L128.38,242.38 L129.27,242.39 L130.16,242.40 L131.05,242.40 L131.94,242.41 L132.82,242.42 L133.71,242.43 L134.60,242.44 L135.49,242.45 L136.38,242.46 L137.27,242.46 L138.16,242.47 L139.05,242.48 L139.93,242.49 L140.82,242.50 L141.71,242.50 L142.60,242.51 L143.49,242.52 L144.38,242.52 L145.27,242.53 L146.16,242.54 L147.04,242.54 L147.93,242.55 L148.82,242.56 L149.71,242.56 L150.60,242.57" fill="none" stroke="#000" stroke-width="1.0" stroke-linejoin="round"/>
<path d="M39.50,243.30 L39.50,242.46 L40.39,242.43 L41.28,242.40 L42.17,242.38 L43.06,242.35 L43.94,242.32 L44.83,242.29 L45.72,242.27 L46.61,242.24 L47.50,242.22 L48.39,242.19 L49.28,242.17 L50.17,242.15 L51.05,242.13 L51.94,242.10 L52.83,242.08 L53.72,242.06 L54.61,242.04 L55.50,242.02 L56.39,242.00 L57.28,241.98 L58.16,241.97 L59.05,241.95 L59.94,241.93 L60.83,241.91 L61.72,241.90 L62.61,241.88 L63.50,241.86 L64.39,241.85 L65.28,241.83 L66.16,241.82 L67.05,241.80 L67.94,241.79 L68.83,241.78 L69.72,241.76 L70.61,241.75 L71.50,241.74 L72.39,241.72 L73.27,241.71 L74.16,241.70 L75.05,241.69 L75.94,241.68 L76.83,241.67 L77.72,241.65 L78.61,241.64 L79.50,241.63 L80.38,241.62 L81.27,241.61 L82.16,241.60 L83.05,241.60 L83.94,241.59 L84.83,241.58 L85.72,241.57 L86.61,241.56 L87.50,241.55 L88.38,241.54 L89.27,241.54 L90.16,241.53 L91.05,241.52 L91.94,241.51 L92.83,241.51 L93.72,241.50 L94.61,241.49 L95.49,241.48 L96.38,241.48 L97.27,241.47 L98.16,241.47 L99.05,241.46 L99.94,241.45 L100.83,241.45 L101.72,241.44 L102.60,241.44 L103.49,241.43 L104.38,241.43 L105.27,241.42 L106.16,241.42 L106.16,242.46 L107.05,242.47 L107.94,242.48 L108.83,242.49 L109.72,242.50 L110.60,242.51 L111.49,242.52 L112.38,242.53 L113.27,242.54 L114.16,242.55 L115.05,242.56 L115.94,242.56 L116.83,242.57 L117.71,242.58 L118.60,242.59 L119.49,242.59 L120.38,242.60 L121.27,242.61 L122.16,242.62 L123.05,242.62 L123.94,242.63 L124.82,242.64 L125.71,242.64 L126.60,242.65 L127.49,242.66 L128.38,242.66 L129.27,242.67 L130.16,242.67 L131.05,242.68 L131.94,242.68 L132.82,242.69 L133.71,242.70 L134.60,242.70 L135.49,242.71 L136.38,242.71 L137.27,242.72 L138.16,242.72 L139.05,242.72 L139.93,242.73 L140.82,242.73 L141.71,242.74 L142.60,242.74 L143.49,242.75 L144.38,242.75 L145.27,242.75 L146.16,242.76 L147.04,242.76 L147.93,242.77 L148.82,242.77 L149.71,242.77 L150.60,242.78" fill="none" stroke="#000" stroke-width="1.0" stroke-linejoin="round"/>
<path d="M39.50,243.30 L39.50,242.88 L40.39,242.86 L41.28,242.85 L42.17,242.83 L43.06,242.81 L43.94,242.80 L44.83,242.78 L45.72,242.76 L46.61,242.75 L47.50,242.73 L48.39,242.72 L49.28,242.71 L50.17,242.69 L51.05,242.68 L51.94,242.67 L52.83,242.65 L53.72,242.64 L54.61,242.63 L55.50,242.62 L56.39,242.61 L57.28,242.59 L58.16,242.58 L59.05,242.57 L59.94,242.56 L60.83,242.55 L61.72,242.54 L62.61,242.53 L63.50,242.52 L64.39,242.51 L65.28,242.50 L66.16,242.49 L67.05,242.49 L67.94,242.48 L68.83,242.47 L69.72,242.46 L70.61,242.45 L71.50,242.45 L72.39,242.44 L73.27,242.43 L74.16,242.42 L75.05,242.42 L75.94,242.41 L76.83,242.40 L77.72,242.40 L78.61,242.39 L79.50,242.38 L80.38,242.38 L81.27,242.37 L82.16,242.37 L83.05,242.36 L83.94,242.36 L84.83,242.35 L85.72,242.34 L86.61,242.34 L87.50,242.33 L88.38,242.33 L89.27,242.32 L90.16,242.32 L91.05,242.32 L91.94,242.31 L92.83,242.31 L93.72,242.30 L94.61,242.30 L95.49,242.29 L96.38,242.29 L97.27,242.29 L98.16,242.28 L99.05,242.28 L99.94,242.28 L100.83,242.27 L101.72,242.27 L102.60,242.27 L103.49,242.26 L104.38,242.26 L105.27,242.26 L106.16,242.25 L106.16,242.88 L107.05,242.89 L107.94,242.89 L108.83,242.90 L109.72,242.90 L110.60,242.91 L111.49,242.91 L112.38,242.92 L113.27,242.92 L114.16,242.93 L115.05,242.93 L115.94,242.94 L116.83,242.94 L117.71,242.94 L118.60,242.95 L119.49,242.95 L120.38,242.96 L121.27,242.96 L122.16,242.96 L123.05,242.97 L123.94,242.97 L124.82,242.97 L125.71,242.98 L126.60,242.98 L127.49,242.98 L128.38,242.99 L129.27,242.99 L130.16,242.99 L131.05,243.00 L131.94,243.00 L132.82,243.00 L133.71,243.01 L134.60,243.01 L135.49,243.01 L136.38,243.01 L137.27,243.02 L138.16,243.02 L139.05,243.02 L139.93,243.02 L140.82,243.03 L141.71,243.03 L142.60,243.03 L143.49,243.03 L144.38,243.03 L145.27,243.04 L146.16,243.04 L147.04,243.04 L147.93,243.04 L148.82,243.04 L149.71,243.05 L150.60,243.05" fill="none" stroke="#000" stroke-width="1.0" stroke-linejoin="round"/>
<path d="M215.50,243.60 L215.69,238.57 L216.13,240.23 L216.34,240.73 L218.26,240.86 L220.18,240.96 L222.11,241.04 L224.03,241.11 L225.95,241.17 L227.88,241.21 L229.80,241.25 L231.72,241.28 L233.65,241.30 L235.57,241.32 L237.49,241.34 L239.42,241.35 L241.34,241.36 L243.26,241.37 L245.18,241.38 L247.11,241.39 L249.03,241.39 L250.95,241.39 L252.88,241.40 L254.80,241.40 L256.72,241.40 L258.65,241.40 L260.57,241.40 L262.49,241.41 L264.42,241.41 L266.34,241.41 L268.26,241.41 L270.18,241.41 L272.11,241.41 L274.03,241.41 L275.95,241.41 L277.88,241.41 L279.80,241.41 L281.72,241.41 L283.65,241.41 L285.57,241.41 L287.49,241.27 L289.42,240.83 L291.34,240.08" fill="none" stroke="#000" stroke-width="0.95" stroke-linejoin="round"/>
<path d="M215.50,243.60 L215.69,240.54 L216.13,241.53 L216.34,242.00 L218.26,242.05 L220.18,242.09 L222.11,242.12 L224.03,242.15 L225.95,242.17 L227.88,242.19 L229.80,242.20 L231.72,242.22 L233.65,242.23 L235.57,242.23 L237.49,242.24 L239.42,242.25 L241.34,242.25 L243.26,242.25 L245.18,242.26 L247.11,242.26 L249.03,242.26 L250.95,242.26 L252.88,242.26 L254.80,242.26 L256.72,242.27 L258.65,242.27 L260.57,242.27 L262.49,242.27 L264.42,242.27 L266.34,242.27 L268.26,242.27 L270.18,242.27 L272.11,242.27 L274.03,242.27 L275.95,242.27 L277.88,242.27 L279.80,242.27 L281.72,242.27 L283.65,242.27 L285.57,242.27 L287.49,242.24 L289.42,242.14 L291.34,241.97" fill="none" stroke="#000" stroke-width="0.5" stroke-linejoin="round"/>
<path d="M215.50,243.60 L215.69,242.72 L216.13,242.65 L216.34,243.11 L218.26,243.13 L220.18,243.14 L222.11,243.16 L224.03,243.17 L225.95,243.18 L227.88,243.18 L229.80,243.19 L231.72,243.19 L233.65,243.20 L235.57,243.20 L237.49,243.20 L239.42,243.21 L241.34,243.21 L243.26,243.21 L245.18,243.21 L247.11,243.21 L249.03,243.21 L250.95,243.21 L252.88,243.21 L254.80,243.21 L256.72,243.21 L258.65,243.21 L260.57,243.21 L262.49,243.21 L264.42,243.21 L266.34,243.21 L268.26,243.22 L270.18,243.22 L272.11,243.22 L274.03,243.22 L275.95,243.22 L277.88,243.22 L279.80,243.22 L281.72,243.22 L283.65,243.22 L285.57,243.22 L287.49,243.21 L289.42,243.18 L291.34,243.13" fill="none" stroke="#000" stroke-width="0.95" stroke-linejoin="round"/>
<path d="M215.30,243.60 L215.60,237.30 L216.40,239.20 L217.70,240.90 L217.70,243.60 Z" fill="#222"/>
<path d="M383.50,243.20 L383.50,228.30 L433.19,227.80 Q433.99,227.80 433.99,229.40 L433.99,242.90 L437.31,242.90" fill="none" stroke="#000" stroke-width="1.1" stroke-linejoin="round"/>
<path d="M383.50,243.20 L383.50,232.46 L433.19,232.32 Q433.99,232.32 433.99,233.92 L433.99,242.90 L437.31,242.90" fill="none" stroke="#000" stroke-width="1.0" stroke-linejoin="round"/>
<path d="M383.50,243.20 L383.50,237.51 L433.19,237.45 Q433.99,237.45 433.99,239.05 L433.99,242.90 L437.31,242.90" fill="none" stroke="#000" stroke-width="1.1" stroke-linejoin="round"/>
<path d="M383.50,243.20 L383.50,239.41 L433.19,239.35 Q433.99,239.35 433.99,240.95 L433.99,242.90 L437.31,242.90" fill="none" stroke="#000" stroke-width="0.9" stroke-linejoin="round"/>
<path d="M383.50,243.20 L383.50,240.55 L433.19,240.55 Q433.99,240.55 433.99,242.15 L433.99,242.90 L437.31,242.90" fill="none" stroke="#000" stroke-width="0.9" stroke-linejoin="round"/>
<path d="M383.50,243.20 L383.50,241.53 L433.19,241.53 Q433.99,241.53 433.99,243.13 L433.99,242.90 L437.31,242.90" fill="none" stroke="#000" stroke-width="0.9" stroke-linejoin="round"/>
<path d="M383.50,243.20 L383.50,242.36 L433.19,242.36 Q433.99,242.36 433.99,243.96 L433.99,242.90 L437.31,242.90" fill="none" stroke="#000" stroke-width="0.9" stroke-linejoin="round"/>
</svg>
</body></html>
